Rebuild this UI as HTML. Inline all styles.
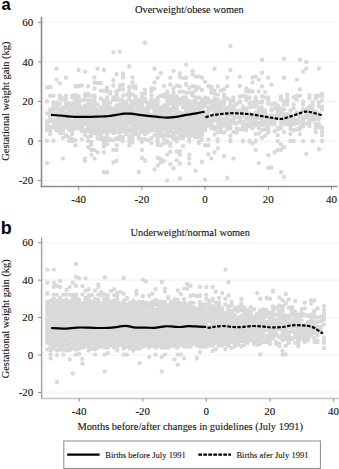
<!DOCTYPE html>
<html><head><meta charset="utf-8"><style>
html,body{margin:0;padding:0;background:#fff;overflow:hidden;}
svg{display:block;}

text{font-family:"Liberation Serif", serif;fill:#111;stroke:#111;stroke-width:0.1px;}
</style></head><body>
<div id="w"><svg width="339" height="469" viewBox="0 0 339 469">
<line x1="41.50" y1="22.37" x2="337.60" y2="22.37" stroke="#f5f5f5" stroke-width="1.6"/>
<line x1="41.50" y1="61.93" x2="337.60" y2="61.93" stroke="#f5f5f5" stroke-width="1.6"/>
<line x1="41.50" y1="101.49" x2="337.60" y2="101.49" stroke="#f5f5f5" stroke-width="1.6"/>
<line x1="41.50" y1="141.05" x2="337.60" y2="141.05" stroke="#f5f5f5" stroke-width="1.6"/>
<line x1="41.50" y1="180.61" x2="337.60" y2="180.61" stroke="#f5f5f5" stroke-width="1.6"/>
<line x1="41.50" y1="242.74" x2="339.00" y2="242.74" stroke="#f5f5f5" stroke-width="1.6"/>
<line x1="41.50" y1="280.16" x2="339.00" y2="280.16" stroke="#f5f5f5" stroke-width="1.6"/>
<line x1="41.50" y1="317.58" x2="339.00" y2="317.58" stroke="#f5f5f5" stroke-width="1.6"/>
<line x1="41.50" y1="355.00" x2="339.00" y2="355.00" stroke="#f5f5f5" stroke-width="1.6"/>
<line x1="41.50" y1="392.42" x2="339.00" y2="392.42" stroke="#f5f5f5" stroke-width="1.6"/>
<path fill="none" stroke="#d9d9d9" stroke-width="4.4" stroke-linecap="round" d="M47.0 124.2h0M47.0 129.2h0M47.0 124.2h0M47.0 101.5h0M47.0 130.2h0M47.0 125.2h0M47.0 113.4h0M47.0 127.2h0M47.0 124.2h0M47.0 124.2h0M47.0 121.3h0M47.0 126.2h0M50.2 110.4h0M50.2 118.3h0M50.2 113.4h0M50.2 127.2h0M50.2 121.3h0M50.2 116.3h0M50.2 109.4h0M50.2 117.3h0M50.2 121.3h0M50.2 117.3h0M50.2 134.1h0M50.2 131.2h0M50.2 118.3h0M53.4 114.3h0M53.4 123.2h0M53.4 123.2h0M53.4 104.5h0M53.4 115.3h0M53.4 127.2h0M53.4 127.2h0M53.4 113.4h0M53.4 122.3h0M53.4 122.3h0M53.4 102.5h0M53.4 110.4h0M53.4 120.3h0M53.4 106.4h0M56.5 122.3h0M56.5 121.3h0M56.5 113.4h0M56.5 127.2h0M56.5 130.2h0M56.5 124.2h0M56.5 108.4h0M56.5 128.2h0M56.5 113.4h0M56.5 130.2h0M56.5 104.5h0M56.5 130.2h0M56.5 120.3h0M56.5 102.5h0M56.5 116.3h0M56.5 121.3h0M56.5 123.2h0M56.5 106.4h0M56.5 104.5h0M56.5 123.2h0M56.5 114.3h0M59.7 123.2h0M59.7 128.2h0M59.7 96.5h0M59.7 123.2h0M59.7 133.1h0M59.7 116.3h0M59.7 108.4h0M59.7 128.2h0M59.7 123.2h0M59.7 130.2h0M59.7 115.3h0M59.7 98.5h0M59.7 119.3h0M59.7 114.3h0M59.7 129.2h0M59.7 123.2h0M59.7 96.5h0M59.7 103.5h0M59.7 130.2h0M59.7 128.2h0M59.7 111.4h0M59.7 121.3h0M59.7 125.2h0M59.7 125.2h0M62.9 119.3h0M62.9 117.3h0M62.9 131.2h0M62.9 119.3h0M62.9 121.3h0M62.9 99.5h0M62.9 124.2h0M62.9 111.4h0M62.9 129.2h0M62.9 119.3h0M62.9 127.2h0M62.9 133.1h0M62.9 125.2h0M62.9 107.4h0M62.9 98.5h0M62.9 138.1h0M62.9 119.3h0M62.9 110.4h0M62.9 122.3h0M62.9 118.3h0M62.9 129.2h0M62.9 121.3h0M62.9 121.3h0M62.9 110.4h0M62.9 125.2h0M66.0 105.4h0M66.0 127.2h0M66.0 136.1h0M66.0 98.5h0M66.0 127.2h0M66.0 106.4h0M66.0 102.5h0M66.0 127.2h0M66.0 108.4h0M66.0 113.4h0M66.0 115.3h0M66.0 126.2h0M66.0 115.3h0M66.0 124.2h0M66.0 118.3h0M66.0 108.4h0M66.0 116.3h0M66.0 106.4h0M66.0 121.3h0M66.0 104.5h0M66.0 104.5h0M66.0 135.1h0M66.0 120.3h0M66.0 120.3h0M66.0 126.2h0M69.2 114.3h0M69.2 117.3h0M69.2 125.2h0M69.2 124.2h0M69.2 103.5h0M69.2 129.2h0M69.2 112.4h0M69.2 105.4h0M69.2 107.4h0M69.2 115.3h0M69.2 137.1h0M69.2 103.5h0M69.2 122.3h0M69.2 121.3h0M69.2 130.2h0M69.2 117.3h0M69.2 111.4h0M69.2 123.2h0M69.2 128.2h0M69.2 127.2h0M69.2 141.1h0M69.2 123.2h0M69.2 112.4h0M69.2 119.3h0M69.2 120.3h0M69.2 122.3h0M69.2 120.3h0M72.3 95.6h0M72.3 129.2h0M72.3 112.4h0M72.3 103.5h0M72.3 127.2h0M72.3 134.1h0M72.3 126.2h0M72.3 122.3h0M72.3 107.4h0M72.3 130.2h0M72.3 103.5h0M72.3 109.4h0M72.3 122.3h0M72.3 97.5h0M72.3 122.3h0M72.3 114.3h0M72.3 133.1h0M72.3 130.2h0M72.3 121.3h0M72.3 132.1h0M72.3 122.3h0M72.3 126.2h0M72.3 105.4h0M72.3 139.1h0M72.3 141.1h0M72.3 105.4h0M75.5 140.1h0M75.5 106.4h0M75.5 116.3h0M75.5 126.2h0M75.5 111.4h0M75.5 117.3h0M75.5 112.4h0M75.5 119.3h0M75.5 103.5h0M75.5 114.3h0M75.5 118.3h0M75.5 116.3h0M75.5 121.3h0M75.5 116.3h0M75.5 128.2h0M75.5 116.3h0M75.5 119.3h0M75.5 111.4h0M75.5 113.4h0M75.5 102.5h0M75.5 126.2h0M75.5 103.5h0M75.5 109.4h0M75.5 124.2h0M75.5 125.2h0M75.5 115.3h0M75.5 125.2h0M75.5 123.2h0M75.5 99.5h0M78.7 110.4h0M78.7 104.5h0M78.7 122.3h0M78.7 118.3h0M78.7 123.2h0M78.7 96.5h0M78.7 112.4h0M78.7 97.5h0M78.7 127.2h0M78.7 115.3h0M78.7 124.2h0M78.7 116.3h0M78.7 120.3h0M78.7 123.2h0M78.7 109.4h0M78.7 128.2h0M78.7 114.3h0M78.7 108.4h0M78.7 122.3h0M78.7 125.2h0M78.7 117.3h0M78.7 108.4h0M78.7 127.2h0M78.7 105.4h0M78.7 121.3h0M78.7 100.5h0M78.7 121.3h0M78.7 120.3h0M81.8 111.4h0M81.8 124.2h0M81.8 110.4h0M81.8 110.4h0M81.8 129.2h0M81.8 120.3h0M81.8 127.2h0M81.8 129.2h0M81.8 114.3h0M81.8 116.3h0M81.8 126.2h0M81.8 107.4h0M81.8 125.2h0M81.8 123.2h0M81.8 110.4h0M81.8 100.5h0M81.8 117.3h0M81.8 107.4h0M81.8 131.2h0M81.8 122.3h0M81.8 129.2h0M81.8 122.3h0M81.8 123.2h0M81.8 109.4h0M81.8 127.2h0M81.8 139.1h0M81.8 116.3h0M85.0 118.3h0M85.0 113.4h0M85.0 110.4h0M85.0 122.3h0M85.0 116.3h0M85.0 135.1h0M85.0 121.3h0M85.0 124.2h0M85.0 130.2h0M85.0 116.3h0M85.0 135.1h0M85.0 111.4h0M85.0 108.4h0M85.0 115.3h0M85.0 119.3h0M85.0 99.5h0M85.0 120.3h0M85.0 95.6h0M85.0 135.1h0M85.0 119.3h0M85.0 111.4h0M85.0 107.4h0M85.0 115.3h0M85.0 117.3h0M85.0 105.4h0M85.0 107.4h0M85.0 118.3h0M85.0 113.4h0M85.0 130.2h0M85.0 132.1h0M88.1 126.2h0M88.1 100.5h0M88.1 127.2h0M88.1 120.3h0M88.1 126.2h0M88.1 137.1h0M88.1 123.2h0M88.1 104.5h0M88.1 127.2h0M88.1 101.5h0M88.1 113.4h0M88.1 123.2h0M88.1 127.2h0M88.1 121.3h0M88.1 109.4h0M88.1 112.4h0M88.1 130.2h0M88.1 121.3h0M88.1 95.6h0M88.1 129.2h0M88.1 125.2h0M88.1 130.2h0M88.1 116.3h0M88.1 129.2h0M88.1 105.4h0M88.1 126.2h0M88.1 113.4h0M88.1 128.2h0M88.1 131.2h0M91.3 110.4h0M91.3 120.3h0M91.3 121.3h0M91.3 133.1h0M91.3 128.2h0M91.3 102.5h0M91.3 125.2h0M91.3 128.2h0M91.3 142.0h0M91.3 95.6h0M91.3 113.4h0M91.3 134.1h0M91.3 100.5h0M91.3 103.5h0M91.3 126.2h0M91.3 131.2h0M91.3 111.4h0M91.3 126.2h0M91.3 122.3h0M91.3 136.1h0M91.3 121.3h0M91.3 131.2h0M91.3 107.4h0M91.3 118.3h0M91.3 119.3h0M91.3 132.1h0M91.3 127.2h0M91.3 109.4h0M91.3 128.2h0M91.3 129.2h0M91.3 119.3h0M94.5 118.3h0M94.5 95.6h0M94.5 123.2h0M94.5 123.2h0M94.5 108.4h0M94.5 128.2h0M94.5 100.5h0M94.5 112.4h0M94.5 114.3h0M94.5 96.5h0M94.5 126.2h0M94.5 130.2h0M94.5 125.2h0M94.5 133.1h0M94.5 106.4h0M94.5 128.2h0M94.5 103.5h0M94.5 116.3h0M94.5 103.5h0M94.5 131.2h0M94.5 129.2h0M94.5 110.4h0M94.5 130.2h0M94.5 122.3h0M94.5 119.3h0M94.5 121.3h0M94.5 118.3h0M94.5 127.2h0M94.5 124.2h0M97.6 131.2h0M97.6 111.4h0M97.6 124.2h0M97.6 125.2h0M97.6 136.1h0M97.6 113.4h0M97.6 138.1h0M97.6 123.2h0M97.6 118.3h0M97.6 111.4h0M97.6 127.2h0M97.6 121.3h0M97.6 104.5h0M97.6 104.5h0M97.6 112.4h0M97.6 110.4h0M97.6 132.1h0M97.6 135.1h0M97.6 130.2h0M97.6 124.2h0M97.6 114.3h0M97.6 121.3h0M97.6 130.2h0M97.6 130.2h0M97.6 116.3h0M97.6 121.3h0M97.6 113.4h0M97.6 109.4h0M97.6 118.3h0M97.6 123.2h0M100.8 121.3h0M100.8 134.1h0M100.8 139.1h0M100.8 122.3h0M100.8 137.1h0M100.8 128.2h0M100.8 114.3h0M100.8 123.2h0M100.8 121.3h0M100.8 117.3h0M100.8 118.3h0M100.8 122.3h0M100.8 125.2h0M100.8 107.4h0M100.8 121.3h0M100.8 98.5h0M100.8 123.2h0M100.8 127.2h0M100.8 122.3h0M100.8 124.2h0M100.8 127.2h0M100.8 111.4h0M100.8 117.3h0M100.8 126.2h0M100.8 131.2h0M100.8 125.2h0M100.8 119.3h0M100.8 131.2h0M100.8 134.1h0M100.8 119.3h0M103.9 108.4h0M103.9 103.5h0M103.9 122.3h0M103.9 132.1h0M103.9 123.2h0M103.9 122.3h0M103.9 115.3h0M103.9 126.2h0M103.9 123.2h0M103.9 121.3h0M103.9 100.5h0M103.9 100.5h0M103.9 104.5h0M103.9 103.5h0M103.9 132.1h0M103.9 107.4h0M103.9 127.2h0M103.9 127.2h0M103.9 123.2h0M103.9 101.5h0M103.9 111.4h0M103.9 138.1h0M103.9 101.5h0M103.9 108.4h0M103.9 118.3h0M103.9 129.2h0M103.9 123.2h0M103.9 128.2h0M103.9 105.4h0M107.1 97.5h0M107.1 136.1h0M107.1 144.0h0M107.1 109.4h0M107.1 121.3h0M107.1 135.1h0M107.1 98.5h0M107.1 91.6h0M107.1 101.5h0M107.1 112.4h0M107.1 112.4h0M107.1 127.2h0M107.1 123.2h0M107.1 102.5h0M107.1 126.2h0M107.1 140.1h0M107.1 133.1h0M107.1 131.2h0M107.1 121.3h0M107.1 131.2h0M107.1 106.4h0M107.1 128.2h0M107.1 119.3h0M107.1 132.1h0M107.1 125.2h0M107.1 104.5h0M107.1 122.3h0M107.1 133.1h0M107.1 104.5h0M107.1 112.4h0M107.1 109.4h0M110.3 129.2h0M110.3 123.2h0M110.3 120.3h0M110.3 123.2h0M110.3 110.4h0M110.3 130.2h0M110.3 131.2h0M110.3 130.2h0M110.3 113.4h0M110.3 122.3h0M110.3 118.3h0M110.3 139.1h0M110.3 123.2h0M110.3 92.6h0M110.3 125.2h0M110.3 140.1h0M110.3 128.2h0M110.3 130.2h0M110.3 121.3h0M110.3 91.6h0M110.3 93.6h0M110.3 102.5h0M110.3 119.3h0M110.3 124.2h0M110.3 128.2h0M110.3 116.3h0M110.3 130.2h0M110.3 116.3h0M110.3 110.4h0M110.3 129.2h0M110.3 107.4h0M113.4 122.3h0M113.4 115.3h0M113.4 116.3h0M113.4 99.5h0M113.4 98.5h0M113.4 114.3h0M113.4 112.4h0M113.4 133.1h0M113.4 125.2h0M113.4 97.5h0M113.4 108.4h0M113.4 128.2h0M113.4 140.1h0M113.4 125.2h0M113.4 124.2h0M113.4 120.3h0M113.4 116.3h0M113.4 99.5h0M113.4 113.4h0M113.4 99.5h0M113.4 121.3h0M113.4 99.5h0M113.4 122.3h0M113.4 130.2h0M113.4 117.3h0M113.4 128.2h0M113.4 128.2h0M113.4 125.2h0M116.6 110.4h0M116.6 108.4h0M116.6 126.2h0M116.6 116.3h0M116.6 139.1h0M116.6 117.3h0M116.6 116.3h0M116.6 138.1h0M116.6 92.6h0M116.6 114.3h0M116.6 130.2h0M116.6 107.4h0M116.6 113.4h0M116.6 115.3h0M116.6 127.2h0M116.6 122.3h0M116.6 125.2h0M116.6 127.2h0M116.6 121.3h0M116.6 132.1h0M116.6 110.4h0M116.6 99.5h0M116.6 94.6h0M116.6 96.5h0M116.6 112.4h0M116.6 131.2h0M116.6 122.3h0M116.6 112.4h0M116.6 105.4h0M116.6 113.4h0M119.8 115.3h0M119.8 112.4h0M119.8 99.5h0M119.8 114.3h0M119.8 131.2h0M119.8 117.3h0M119.8 123.2h0M119.8 109.4h0M119.8 89.6h0M119.8 122.3h0M119.8 139.1h0M119.8 122.3h0M119.8 132.1h0M119.8 120.3h0M119.8 88.6h0M119.8 126.2h0M119.8 114.3h0M119.8 99.5h0M119.8 129.2h0M119.8 124.2h0M119.8 113.4h0M119.8 130.2h0M119.8 108.4h0M119.8 127.2h0M119.8 106.4h0M119.8 126.2h0M119.8 104.5h0M119.8 136.1h0M119.8 123.2h0M122.9 105.4h0M122.9 131.2h0M122.9 125.2h0M122.9 131.2h0M122.9 116.3h0M122.9 126.2h0M122.9 110.4h0M122.9 100.5h0M122.9 95.6h0M122.9 112.4h0M122.9 112.4h0M122.9 111.4h0M122.9 113.4h0M122.9 124.2h0M122.9 112.4h0M122.9 107.4h0M122.9 141.1h0M122.9 104.5h0M122.9 138.1h0M122.9 137.1h0M122.9 123.2h0M122.9 112.4h0M122.9 122.3h0M122.9 103.5h0M122.9 123.2h0M122.9 121.3h0M122.9 126.2h0M122.9 130.2h0M126.1 109.4h0M126.1 107.4h0M126.1 111.4h0M126.1 106.4h0M126.1 131.2h0M126.1 130.2h0M126.1 134.1h0M126.1 120.3h0M126.1 124.2h0M126.1 112.4h0M126.1 103.5h0M126.1 125.2h0M126.1 123.2h0M126.1 104.5h0M126.1 127.2h0M126.1 94.6h0M126.1 118.3h0M126.1 111.4h0M126.1 113.4h0M126.1 104.5h0M126.1 130.2h0M126.1 126.2h0M126.1 133.1h0M126.1 122.3h0M126.1 101.5h0M126.1 115.3h0M126.1 103.5h0M126.1 125.2h0M126.1 133.1h0M126.1 124.2h0M126.1 111.4h0M126.1 115.3h0M129.2 123.2h0M129.2 99.5h0M129.2 122.3h0M129.2 123.2h0M129.2 112.4h0M129.2 114.3h0M129.2 122.3h0M129.2 108.4h0M129.2 108.4h0M129.2 128.2h0M129.2 123.2h0M129.2 137.1h0M129.2 105.4h0M129.2 93.6h0M129.2 130.2h0M129.2 130.2h0M129.2 109.4h0M129.2 98.5h0M129.2 120.3h0M129.2 94.6h0M129.2 115.3h0M129.2 87.6h0M129.2 117.3h0M129.2 117.3h0M129.2 136.1h0M129.2 116.3h0M129.2 128.2h0M129.2 110.4h0M129.2 107.4h0M129.2 97.5h0M129.2 131.2h0M132.4 102.5h0M132.4 117.3h0M132.4 121.3h0M132.4 135.1h0M132.4 139.1h0M132.4 110.4h0M132.4 103.5h0M132.4 94.6h0M132.4 134.1h0M132.4 119.3h0M132.4 110.4h0M132.4 119.3h0M132.4 94.6h0M132.4 130.2h0M132.4 124.2h0M132.4 122.3h0M132.4 105.4h0M132.4 126.2h0M132.4 138.1h0M132.4 101.5h0M132.4 120.3h0M132.4 113.4h0M132.4 124.2h0M132.4 120.3h0M132.4 118.3h0M132.4 107.4h0M132.4 120.3h0M132.4 111.4h0M132.4 118.3h0M132.4 119.3h0M132.4 127.2h0M135.6 111.4h0M135.6 115.3h0M135.6 131.2h0M135.6 117.3h0M135.6 116.3h0M135.6 129.2h0M135.6 123.2h0M135.6 121.3h0M135.6 122.3h0M135.6 101.5h0M135.6 125.2h0M135.6 134.1h0M135.6 126.2h0M135.6 96.5h0M135.6 123.2h0M135.6 106.4h0M135.6 117.3h0M135.6 122.3h0M135.6 102.5h0M135.6 134.1h0M135.6 119.3h0M135.6 128.2h0M135.6 127.2h0M135.6 134.1h0M135.6 132.1h0M135.6 98.5h0M135.6 121.3h0M135.6 88.6h0M135.6 113.4h0M135.6 128.2h0M135.6 130.2h0M135.6 133.1h0M138.7 124.2h0M138.7 121.3h0M138.7 133.1h0M138.7 136.1h0M138.7 115.3h0M138.7 120.3h0M138.7 115.3h0M138.7 126.2h0M138.7 128.2h0M138.7 126.2h0M138.7 110.4h0M138.7 135.1h0M138.7 121.3h0M138.7 136.1h0M138.7 135.1h0M138.7 101.5h0M138.7 105.4h0M138.7 105.4h0M138.7 123.2h0M138.7 121.3h0M138.7 123.2h0M138.7 108.4h0M138.7 125.2h0M138.7 135.1h0M138.7 100.5h0M138.7 117.3h0M138.7 123.2h0M138.7 118.3h0M138.7 117.3h0M138.7 138.1h0M138.7 134.1h0M141.9 129.2h0M141.9 109.4h0M141.9 124.2h0M141.9 112.4h0M141.9 115.3h0M141.9 113.4h0M141.9 142.0h0M141.9 123.2h0M141.9 121.3h0M141.9 128.2h0M141.9 104.5h0M141.9 103.5h0M141.9 127.2h0M141.9 107.4h0M141.9 129.2h0M141.9 132.1h0M141.9 93.6h0M141.9 118.3h0M141.9 97.5h0M141.9 120.3h0M141.9 130.2h0M141.9 100.5h0M141.9 139.1h0M141.9 116.3h0M141.9 103.5h0M141.9 119.3h0M141.9 129.2h0M141.9 100.5h0M141.9 121.3h0M141.9 100.5h0M145.0 131.2h0M145.0 101.5h0M145.0 114.3h0M145.0 139.1h0M145.0 119.3h0M145.0 134.1h0M145.0 123.2h0M145.0 110.4h0M145.0 117.3h0M145.0 121.3h0M145.0 114.3h0M145.0 108.4h0M145.0 109.4h0M145.0 98.5h0M145.0 122.3h0M145.0 124.2h0M145.0 128.2h0M145.0 93.6h0M145.0 129.2h0M145.0 120.3h0M145.0 99.5h0M145.0 121.3h0M145.0 129.2h0M145.0 126.2h0M145.0 128.2h0M145.0 130.2h0M145.0 130.2h0M145.0 120.3h0M145.0 89.6h0M145.0 109.4h0M145.0 124.2h0M145.0 113.4h0M148.2 129.2h0M148.2 121.3h0M148.2 140.1h0M148.2 106.4h0M148.2 130.2h0M148.2 113.4h0M148.2 109.4h0M148.2 126.2h0M148.2 111.4h0M148.2 129.2h0M148.2 103.5h0M148.2 121.3h0M148.2 108.4h0M148.2 117.3h0M148.2 115.3h0M148.2 103.5h0M148.2 127.2h0M148.2 102.5h0M148.2 106.4h0M148.2 130.2h0M148.2 130.2h0M148.2 127.2h0M148.2 124.2h0M148.2 102.5h0M148.2 109.4h0M148.2 105.4h0M148.2 130.2h0M148.2 123.2h0M148.2 132.1h0M148.2 130.2h0M148.2 117.3h0M151.4 143.0h0M151.4 130.2h0M151.4 127.2h0M151.4 115.3h0M151.4 117.3h0M151.4 115.3h0M151.4 116.3h0M151.4 120.3h0M151.4 115.3h0M151.4 124.2h0M151.4 123.2h0M151.4 129.2h0M151.4 120.3h0M151.4 129.2h0M151.4 104.5h0M151.4 138.1h0M151.4 102.5h0M151.4 116.3h0M151.4 128.2h0M151.4 107.4h0M151.4 128.2h0M151.4 99.5h0M151.4 91.6h0M151.4 100.5h0M151.4 95.6h0M151.4 120.3h0M151.4 116.3h0M151.4 124.2h0M151.4 105.4h0M154.5 120.3h0M154.5 125.2h0M154.5 117.3h0M154.5 111.4h0M154.5 121.3h0M154.5 130.2h0M154.5 127.2h0M154.5 130.2h0M154.5 112.4h0M154.5 109.4h0M154.5 117.3h0M154.5 125.2h0M154.5 128.2h0M154.5 135.1h0M154.5 100.5h0M154.5 113.4h0M154.5 114.3h0M154.5 116.3h0M154.5 119.3h0M154.5 124.2h0M154.5 126.2h0M154.5 127.2h0M154.5 102.5h0M154.5 130.2h0M154.5 107.4h0M154.5 102.5h0M154.5 106.4h0M154.5 108.4h0M154.5 122.3h0M154.5 129.2h0M157.7 112.4h0M157.7 130.2h0M157.7 123.2h0M157.7 126.2h0M157.7 98.5h0M157.7 130.2h0M157.7 97.5h0M157.7 123.2h0M157.7 134.1h0M157.7 126.2h0M157.7 130.2h0M157.7 112.4h0M157.7 113.4h0M157.7 133.1h0M157.7 121.3h0M157.7 119.3h0M157.7 99.5h0M157.7 122.3h0M157.7 127.2h0M157.7 109.4h0M157.7 113.4h0M157.7 137.1h0M157.7 123.2h0M157.7 116.3h0M157.7 103.5h0M157.7 111.4h0M157.7 117.3h0M157.7 135.1h0M157.7 111.4h0M157.7 139.1h0M157.7 107.4h0M157.7 115.3h0M160.8 117.3h0M160.8 108.4h0M160.8 119.3h0M160.8 125.2h0M160.8 95.6h0M160.8 117.3h0M160.8 119.3h0M160.8 115.3h0M160.8 128.2h0M160.8 112.4h0M160.8 115.3h0M160.8 121.3h0M160.8 128.2h0M160.8 117.3h0M160.8 136.1h0M160.8 107.4h0M160.8 134.1h0M160.8 108.4h0M160.8 118.3h0M160.8 124.2h0M160.8 130.2h0M160.8 115.3h0M160.8 134.1h0M160.8 117.3h0M160.8 109.4h0M160.8 125.2h0M160.8 122.3h0M160.8 130.2h0M160.8 112.4h0M160.8 125.2h0M160.8 127.2h0M160.8 124.2h0M164.0 110.4h0M164.0 130.2h0M164.0 122.3h0M164.0 126.2h0M164.0 115.3h0M164.0 121.3h0M164.0 105.4h0M164.0 122.3h0M164.0 128.2h0M164.0 122.3h0M164.0 129.2h0M164.0 124.2h0M164.0 135.1h0M164.0 118.3h0M164.0 96.5h0M164.0 125.2h0M164.0 118.3h0M164.0 106.4h0M164.0 127.2h0M164.0 123.2h0M164.0 125.2h0M164.0 116.3h0M164.0 123.2h0M164.0 123.2h0M164.0 139.1h0M164.0 110.4h0M164.0 121.3h0M164.0 124.2h0M164.0 95.6h0M164.0 96.5h0M164.0 143.0h0M164.0 94.6h0M164.0 127.2h0M167.2 109.4h0M167.2 91.6h0M167.2 107.4h0M167.2 129.2h0M167.2 100.5h0M167.2 127.2h0M167.2 124.2h0M167.2 141.1h0M167.2 114.3h0M167.2 134.1h0M167.2 130.2h0M167.2 116.3h0M167.2 96.5h0M167.2 136.1h0M167.2 100.5h0M167.2 114.3h0M167.2 130.2h0M167.2 132.1h0M167.2 108.4h0M167.2 120.3h0M167.2 117.3h0M167.2 133.1h0M167.2 93.6h0M167.2 130.2h0M167.2 121.3h0M167.2 104.5h0M167.2 122.3h0M167.2 110.4h0M167.2 113.4h0M167.2 112.4h0M170.3 127.2h0M170.3 136.1h0M170.3 128.2h0M170.3 102.5h0M170.3 96.5h0M170.3 109.4h0M170.3 131.2h0M170.3 116.3h0M170.3 111.4h0M170.3 122.3h0M170.3 99.5h0M170.3 103.5h0M170.3 126.2h0M170.3 116.3h0M170.3 114.3h0M170.3 124.2h0M170.3 112.4h0M170.3 110.4h0M170.3 114.3h0M170.3 127.2h0M170.3 121.3h0M170.3 103.5h0M170.3 116.3h0M170.3 127.2h0M170.3 103.5h0M170.3 124.2h0M170.3 117.3h0M170.3 129.2h0M170.3 125.2h0M170.3 136.1h0M170.3 126.2h0M170.3 112.4h0M173.5 125.2h0M173.5 125.2h0M173.5 138.1h0M173.5 103.5h0M173.5 124.2h0M173.5 101.5h0M173.5 96.5h0M173.5 128.2h0M173.5 126.2h0M173.5 105.4h0M173.5 137.1h0M173.5 106.4h0M173.5 103.5h0M173.5 127.2h0M173.5 123.2h0M173.5 118.3h0M173.5 120.3h0M173.5 123.2h0M173.5 119.3h0M173.5 118.3h0M173.5 92.6h0M173.5 100.5h0M173.5 127.2h0M173.5 110.4h0M173.5 126.2h0M173.5 133.1h0M173.5 115.3h0M173.5 124.2h0M173.5 128.2h0M173.5 139.1h0M173.5 136.1h0M176.7 119.3h0M176.7 108.4h0M176.7 104.5h0M176.7 126.2h0M176.7 125.2h0M176.7 118.3h0M176.7 129.2h0M176.7 112.4h0M176.7 132.1h0M176.7 121.3h0M176.7 120.3h0M176.7 121.3h0M176.7 119.3h0M176.7 96.5h0M176.7 123.2h0M176.7 133.1h0M176.7 128.2h0M176.7 116.3h0M176.7 138.1h0M176.7 105.4h0M176.7 101.5h0M176.7 126.2h0M176.7 99.5h0M176.7 85.7h0M176.7 130.2h0M176.7 128.2h0M176.7 128.2h0M176.7 113.4h0M176.7 123.2h0M176.7 106.4h0M176.7 138.1h0M176.7 129.2h0M179.8 91.6h0M179.8 129.2h0M179.8 136.1h0M179.8 133.1h0M179.8 129.2h0M179.8 121.3h0M179.8 116.3h0M179.8 127.2h0M179.8 125.2h0M179.8 123.2h0M179.8 116.3h0M179.8 138.1h0M179.8 103.5h0M179.8 120.3h0M179.8 112.4h0M179.8 131.2h0M179.8 135.1h0M179.8 133.1h0M179.8 128.2h0M179.8 99.5h0M179.8 126.2h0M179.8 119.3h0M179.8 121.3h0M179.8 116.3h0M179.8 125.2h0M179.8 124.2h0M179.8 115.3h0M179.8 120.3h0M179.8 126.2h0M179.8 126.2h0M179.8 118.3h0M183.0 131.2h0M183.0 114.3h0M183.0 136.1h0M183.0 91.6h0M183.0 102.5h0M183.0 107.4h0M183.0 106.4h0M183.0 133.1h0M183.0 133.1h0M183.0 122.3h0M183.0 138.1h0M183.0 123.2h0M183.0 113.4h0M183.0 123.2h0M183.0 119.3h0M183.0 128.2h0M183.0 98.5h0M183.0 131.2h0M183.0 114.3h0M183.0 129.2h0M183.0 97.5h0M183.0 114.3h0M183.0 122.3h0M183.0 130.2h0M183.0 102.5h0M183.0 138.1h0M183.0 126.2h0M183.0 113.4h0M183.0 133.1h0M183.0 122.3h0M183.0 132.1h0M186.1 114.3h0M186.1 127.2h0M186.1 124.2h0M186.1 108.4h0M186.1 111.4h0M186.1 127.2h0M186.1 128.2h0M186.1 118.3h0M186.1 129.2h0M186.1 130.2h0M186.1 121.3h0M186.1 105.4h0M186.1 100.5h0M186.1 92.6h0M186.1 133.1h0M186.1 118.3h0M186.1 113.4h0M186.1 117.3h0M186.1 100.5h0M186.1 124.2h0M186.1 134.1h0M186.1 132.1h0M186.1 97.5h0M186.1 135.1h0M186.1 109.4h0M186.1 92.6h0M186.1 102.5h0M186.1 106.4h0M186.1 121.3h0M186.1 105.4h0M186.1 98.5h0M186.1 117.3h0M189.3 110.4h0M189.3 125.2h0M189.3 122.3h0M189.3 92.6h0M189.3 132.1h0M189.3 101.5h0M189.3 112.4h0M189.3 119.3h0M189.3 109.4h0M189.3 92.6h0M189.3 134.1h0M189.3 108.4h0M189.3 117.3h0M189.3 120.3h0M189.3 122.3h0M189.3 118.3h0M189.3 123.2h0M189.3 125.2h0M189.3 129.2h0M189.3 114.3h0M189.3 109.4h0M189.3 105.4h0M189.3 127.2h0M189.3 120.3h0M189.3 126.2h0M189.3 126.2h0M189.3 138.1h0M189.3 123.2h0M189.3 128.2h0M189.3 102.5h0M189.3 104.5h0M189.3 116.3h0M192.5 102.5h0M192.5 128.2h0M192.5 101.5h0M192.5 121.3h0M192.5 104.5h0M192.5 116.3h0M192.5 117.3h0M192.5 94.6h0M192.5 122.3h0M192.5 131.2h0M192.5 127.2h0M192.5 111.4h0M192.5 112.4h0M192.5 103.5h0M192.5 127.2h0M192.5 135.1h0M192.5 113.4h0M192.5 95.6h0M192.5 123.2h0M192.5 128.2h0M192.5 122.3h0M192.5 129.2h0M192.5 126.2h0M192.5 125.2h0M192.5 131.2h0M192.5 106.4h0M192.5 108.4h0M192.5 125.2h0M192.5 110.4h0M192.5 123.2h0M192.5 92.6h0M195.6 129.2h0M195.6 121.3h0M195.6 122.3h0M195.6 137.1h0M195.6 104.5h0M195.6 107.4h0M195.6 104.5h0M195.6 114.3h0M195.6 105.4h0M195.6 121.3h0M195.6 111.4h0M195.6 99.5h0M195.6 97.5h0M195.6 133.1h0M195.6 120.3h0M195.6 117.3h0M195.6 121.3h0M195.6 119.3h0M195.6 128.2h0M195.6 126.2h0M195.6 112.4h0M195.6 108.4h0M195.6 104.5h0M195.6 102.5h0M195.6 135.1h0M195.6 107.4h0M195.6 90.6h0M195.6 108.4h0M195.6 109.4h0M195.6 124.2h0M195.6 107.4h0M195.6 126.2h0M195.6 125.2h0M195.6 134.1h0M198.8 143.0h0M198.8 134.1h0M198.8 103.5h0M198.8 115.3h0M198.8 123.2h0M198.8 128.2h0M198.8 133.1h0M198.8 118.3h0M198.8 127.2h0M198.8 128.2h0M198.8 114.3h0M198.8 129.2h0M198.8 132.1h0M198.8 118.3h0M198.8 131.2h0M198.8 137.1h0M198.8 121.3h0M198.8 121.3h0M198.8 116.3h0M198.8 111.4h0M198.8 122.3h0M198.8 114.3h0M198.8 116.3h0M198.8 109.4h0M198.8 97.5h0M198.8 107.4h0M198.8 124.2h0M198.8 103.5h0M198.8 111.4h0M198.8 137.1h0M198.8 132.1h0M198.8 110.4h0M201.9 135.1h0M201.9 111.4h0M201.9 120.3h0M201.9 133.1h0M201.9 107.4h0M201.9 132.1h0M201.9 107.4h0M201.9 122.3h0M201.9 115.3h0M201.9 118.3h0M201.9 121.3h0M201.9 118.3h0M201.9 104.5h0M201.9 128.2h0M201.9 126.2h0M201.9 132.1h0M201.9 133.1h0M201.9 99.5h0M201.9 132.1h0M201.9 132.1h0M201.9 112.4h0M201.9 130.2h0M201.9 134.1h0M201.9 111.4h0M201.9 99.5h0M201.9 114.3h0M201.9 122.3h0M201.9 101.5h0M205.1 114.3h0M205.1 103.5h0M205.1 112.4h0M205.1 118.3h0M205.1 121.3h0M205.1 130.2h0M205.1 114.3h0M205.1 112.4h0M205.1 127.2h0M205.1 99.5h0M205.1 99.5h0M205.1 97.5h0M205.1 115.3h0M205.1 121.3h0M205.1 116.3h0M205.1 122.3h0M205.1 125.2h0M205.1 122.3h0M205.1 106.4h0M205.1 113.4h0M205.1 129.2h0M208.3 102.5h0M208.3 113.4h0M208.3 111.4h0M208.3 114.3h0M208.3 101.5h0M208.3 98.5h0M208.3 125.2h0M208.3 107.4h0M208.3 116.3h0M208.3 123.2h0M208.3 112.4h0M208.3 122.3h0M208.3 108.4h0M208.3 112.4h0M208.3 115.3h0M208.3 110.4h0M208.3 117.3h0M208.3 119.3h0M211.4 121.3h0M211.4 103.5h0M211.4 120.3h0M211.4 119.3h0M211.4 92.6h0M211.4 86.7h0M211.4 121.3h0M211.4 103.5h0M211.4 126.2h0M211.4 108.4h0M211.4 107.4h0M211.4 117.3h0M211.4 123.2h0M211.4 101.5h0M211.4 128.2h0M211.4 126.2h0M211.4 123.2h0M211.4 109.4h0M211.4 125.2h0M214.6 100.5h0M214.6 112.4h0M214.6 120.3h0M214.6 109.4h0M214.6 120.3h0M214.6 127.2h0M214.6 105.4h0M214.6 93.6h0M214.6 110.4h0M214.6 98.5h0M214.6 106.4h0M214.6 115.3h0M214.6 116.3h0M214.6 128.2h0M214.6 102.5h0M214.6 120.3h0M214.6 109.4h0M214.6 129.2h0M217.7 119.3h0M217.7 132.1h0M217.7 109.4h0M217.7 94.6h0M217.7 99.5h0M217.7 94.6h0M217.7 103.5h0M217.7 113.4h0M217.7 127.2h0M217.7 123.2h0M217.7 121.3h0M217.7 111.4h0M217.7 106.4h0M217.7 117.3h0M217.7 118.3h0M217.7 119.3h0M217.7 120.3h0M217.7 115.3h0M220.9 101.5h0M220.9 105.4h0M220.9 132.1h0M220.9 111.4h0M220.9 123.2h0M220.9 130.2h0M220.9 120.3h0M220.9 111.4h0M220.9 113.4h0M220.9 102.5h0M220.9 119.3h0M220.9 127.2h0M220.9 122.3h0M220.9 124.2h0M220.9 123.2h0M220.9 108.4h0M220.9 118.3h0M220.9 123.2h0M224.1 109.4h0M224.1 114.3h0M224.1 102.5h0M224.1 124.2h0M224.1 119.3h0M224.1 111.4h0M224.1 94.6h0M224.1 98.5h0M224.1 103.5h0M224.1 121.3h0M224.1 99.5h0M224.1 96.5h0M224.1 108.4h0M224.1 110.4h0M224.1 125.2h0M227.2 115.3h0M227.2 98.5h0M227.2 110.4h0M227.2 119.3h0M227.2 124.2h0M227.2 116.3h0M227.2 119.3h0M227.2 128.2h0M227.2 129.2h0M227.2 124.2h0M227.2 107.4h0M227.2 111.4h0M227.2 128.2h0M227.2 108.4h0M227.2 116.3h0M230.4 123.2h0M230.4 114.3h0M230.4 127.2h0M230.4 128.2h0M230.4 107.4h0M230.4 110.4h0M230.4 115.3h0M230.4 100.5h0M230.4 120.3h0M230.4 114.3h0M230.4 124.2h0M230.4 108.4h0M230.4 104.5h0M230.4 104.5h0M230.4 108.4h0M230.4 106.4h0M230.4 112.4h0M233.5 116.3h0M233.5 107.4h0M233.5 111.4h0M233.5 120.3h0M233.5 123.2h0M233.5 121.3h0M233.5 106.4h0M233.5 120.3h0M233.5 115.3h0M233.5 115.3h0M233.5 123.2h0M233.5 115.3h0M233.5 132.1h0M233.5 123.2h0M233.5 101.5h0M233.5 97.5h0M236.7 123.2h0M236.7 112.4h0M236.7 117.3h0M236.7 130.2h0M236.7 129.2h0M236.7 110.4h0M236.7 112.4h0M236.7 130.2h0M236.7 117.3h0M236.7 104.5h0M236.7 128.2h0M236.7 116.3h0M236.7 130.2h0M236.7 115.3h0M236.7 129.2h0M239.9 114.3h0M239.9 129.2h0M239.9 122.3h0M239.9 115.3h0M239.9 119.3h0M239.9 110.4h0M239.9 101.5h0M239.9 102.5h0M239.9 117.3h0M239.9 102.5h0M239.9 121.3h0M239.9 122.3h0M239.9 121.3h0M239.9 110.4h0M239.9 118.3h0M239.9 117.3h0M239.9 129.2h0M243.0 106.4h0M243.0 112.4h0M243.0 114.3h0M243.0 116.3h0M243.0 107.4h0M243.0 109.4h0M243.0 127.2h0M243.0 109.4h0M243.0 126.2h0M243.0 129.2h0M243.0 124.2h0M243.0 122.3h0M243.0 122.3h0M243.0 95.6h0M243.0 124.2h0M246.2 129.2h0M246.2 127.2h0M246.2 112.4h0M246.2 96.5h0M246.2 127.2h0M246.2 125.2h0M246.2 112.4h0M246.2 130.2h0M246.2 124.2h0M246.2 99.5h0M246.2 113.4h0M246.2 111.4h0M246.2 116.3h0M246.2 119.3h0M246.2 108.4h0M249.4 115.3h0M249.4 123.2h0M249.4 117.3h0M249.4 114.3h0M249.4 113.4h0M249.4 116.3h0M249.4 90.6h0M249.4 119.3h0M249.4 103.5h0M249.4 118.3h0M249.4 97.5h0M249.4 126.2h0M249.4 119.3h0M249.4 98.5h0M249.4 119.3h0M249.4 107.4h0M252.5 122.3h0M252.5 106.4h0M252.5 119.3h0M252.5 117.3h0M252.5 128.2h0M252.5 121.3h0M252.5 122.3h0M252.5 102.5h0M252.5 124.2h0M252.5 123.2h0M252.5 117.3h0M252.5 119.3h0M252.5 104.5h0M252.5 119.3h0M255.7 102.5h0M255.7 118.3h0M255.7 112.4h0M255.7 106.4h0M255.7 123.2h0M255.7 97.5h0M255.7 117.3h0M255.7 99.5h0M255.7 134.1h0M255.7 125.2h0M255.7 123.2h0M255.7 122.3h0M255.7 112.4h0M258.8 118.3h0M258.8 110.4h0M258.8 111.4h0M258.8 124.2h0M258.8 116.3h0M258.8 115.3h0M258.8 107.4h0M258.8 113.4h0M258.8 102.5h0M258.8 128.2h0M258.8 102.5h0M258.8 123.2h0M262.0 102.5h0M262.0 118.3h0M262.0 130.2h0M262.0 125.2h0M262.0 101.5h0M262.0 107.4h0M262.0 120.3h0M262.0 120.3h0M262.0 117.3h0M262.0 112.4h0M262.0 112.4h0M262.0 109.4h0M262.0 121.3h0M265.2 110.4h0M265.2 97.5h0M265.2 122.3h0M265.2 97.5h0M265.2 121.3h0M265.2 112.4h0M265.2 122.3h0M265.2 124.2h0M265.2 129.2h0M265.2 110.4h0M265.2 113.4h0M265.2 117.3h0M268.3 122.3h0M268.3 118.3h0M268.3 98.5h0M268.3 128.2h0M268.3 129.2h0M268.3 99.5h0M268.3 122.3h0M268.3 128.2h0M268.3 125.2h0M268.3 103.5h0M268.3 97.5h0M268.3 116.3h0M271.5 110.4h0M271.5 117.3h0M271.5 116.3h0M271.5 122.3h0M271.5 109.4h0M271.5 115.3h0M271.5 115.3h0M271.5 124.2h0M271.5 120.3h0M271.5 119.3h0M271.5 104.5h0M274.6 122.3h0M274.6 116.3h0M274.6 124.2h0M274.6 119.3h0M274.6 124.2h0M274.6 103.5h0M274.6 118.3h0M274.6 131.2h0M274.6 116.3h0M274.6 108.4h0M277.8 114.3h0M277.8 114.3h0M277.8 112.4h0M277.8 135.1h0M277.8 105.4h0M277.8 111.4h0M277.8 109.4h0M277.8 128.2h0M277.8 113.4h0M277.8 129.2h0M277.8 118.3h0M281.0 96.5h0M281.0 128.2h0M281.0 122.3h0M281.0 121.3h0M281.0 115.3h0M281.0 111.4h0M281.0 99.5h0M281.0 125.2h0M281.0 119.3h0M281.0 112.4h0M281.0 108.4h0M284.1 116.3h0M284.1 132.1h0M284.1 124.2h0M284.1 109.4h0M284.1 101.5h0M284.1 114.3h0M284.1 104.5h0M284.1 118.3h0M284.1 121.3h0M284.1 123.2h0M287.3 121.3h0M287.3 114.3h0M287.3 122.3h0M287.3 104.5h0M287.3 116.3h0M287.3 124.2h0M287.3 120.3h0M287.3 99.5h0M287.3 101.5h0M287.3 94.6h0M290.4 115.3h0M290.4 134.1h0M290.4 127.2h0M290.4 129.2h0M290.4 110.4h0M290.4 124.2h0M290.4 117.3h0M290.4 121.3h0M293.6 120.3h0M293.6 130.2h0M293.6 104.5h0M293.6 117.3h0M293.6 119.3h0M293.6 130.2h0M293.6 124.2h0M293.6 108.4h0M293.6 122.3h0M296.8 120.3h0M296.8 112.4h0M296.8 123.2h0M296.8 112.4h0M296.8 129.2h0M296.8 99.5h0M296.8 112.4h0M296.8 113.4h0M296.8 112.4h0M299.9 113.4h0M299.9 122.3h0M299.9 117.3h0M299.9 117.3h0M299.9 127.2h0M299.9 127.2h0M299.9 129.2h0M299.9 134.1h0M303.1 119.3h0M303.1 117.3h0M303.1 118.3h0M303.1 109.4h0M303.1 104.5h0M303.1 124.2h0M303.1 126.2h0M303.1 101.5h0M303.1 122.3h0M306.3 115.3h0M306.3 112.4h0M306.3 123.2h0M306.3 116.3h0M306.3 109.4h0M306.3 117.3h0M306.3 109.4h0M306.3 111.4h0M309.4 118.3h0M309.4 119.3h0M309.4 108.4h0M309.4 115.3h0M309.4 123.2h0M309.4 126.2h0M309.4 106.4h0M309.4 120.3h0M312.6 116.3h0M312.6 106.4h0M312.6 106.4h0M312.6 112.4h0M312.6 102.5h0M312.6 109.4h0M312.6 120.3h0M312.6 118.3h0M315.7 111.4h0M315.7 98.5h0M315.7 132.1h0M315.7 116.3h0M315.7 118.3h0M315.7 119.3h0M315.7 128.2h0M315.7 124.2h0M318.9 127.2h0M318.9 124.2h0M318.9 118.3h0M318.9 119.3h0M318.9 106.4h0M318.9 113.4h0M318.9 102.5h0M322.1 131.2h0M322.1 127.2h0M322.1 109.4h0M322.1 135.1h0M322.1 93.6h0M322.1 100.5h0M322.1 106.4h0M113.4 52.3h0M119.8 51.6h0M56.5 68.8h0M78.7 70.0h0M85.0 71.6h0M97.6 68.8h0M103.9 70.0h0M116.6 74.0h0M145.0 42.8h0M129.2 66.2h0M122.9 73.5h0M154.5 68.8h0M160.8 73.3h0M173.5 70.9h0M179.8 73.3h0M186.1 64.6h0M192.5 70.9h0M230.4 46.2h0M262.0 59.8h0M214.6 68.8h0M230.4 70.0h0M262.0 72.8h0M284.1 58.9h0M299.9 59.8h0M306.3 61.9h0M306.3 68.6h0M318.9 68.6h0M303.1 71.6h0M66.0 77.7h0M56.5 79.6h0M59.7 83.3h0M47.0 87.7h0M50.2 87.0h0M75.5 86.2h0M78.7 86.2h0M81.8 85.5h0M88.1 86.2h0M50.2 95.8h0M53.4 95.8h0M59.7 95.8h0M66.0 95.8h0M72.3 95.8h0M75.5 95.0h0M85.0 94.3h0M88.1 93.6h0M116.6 74.1h0M122.9 74.1h0M122.9 77.4h0M94.5 77.4h0M113.4 80.3h0M132.4 77.4h0M94.5 82.5h0M97.6 83.0h0M100.8 83.0h0M132.4 82.5h0M113.4 85.5h0M119.8 85.5h0M122.9 84.7h0M88.1 86.2h0M94.5 88.4h0M107.1 87.7h0M100.8 90.6h0M103.9 90.6h0M122.9 89.2h0M129.2 87.0h0M132.4 87.0h0M110.3 92.1h0M116.6 91.4h0M129.2 91.4h0M135.6 88.4h0M157.7 77.7h0M170.3 77.7h0M179.8 77.1h0M183.0 78.1h0M186.1 78.1h0M154.5 82.5h0M135.6 86.2h0M164.0 85.9h0M170.3 84.7h0M173.5 88.4h0M179.8 86.2h0M186.1 84.7h0M151.4 88.4h0M154.5 88.4h0M192.5 74.4h0M186.1 77.4h0M195.6 76.6h0M198.8 76.6h0M201.9 77.4h0M205.1 81.8h0M227.2 77.4h0M186.1 84.0h0M189.3 87.7h0M192.5 86.2h0M195.6 87.0h0M198.8 87.7h0M208.3 86.2h0M217.7 86.5h0M227.2 86.2h0M211.4 89.2h0M214.6 90.6h0M201.9 89.9h0M220.9 90.6h0M224.1 89.2h0M239.9 76.6h0M252.5 77.4h0M255.7 76.6h0M258.8 79.6h0M268.3 77.7h0M252.5 82.5h0M239.9 85.9h0M262.0 86.5h0M271.5 84.7h0M246.2 88.4h0M246.2 91.4h0M249.4 91.4h0M252.5 91.4h0M258.8 91.4h0M265.2 92.1h0M262.0 96.3h0M255.7 97.3h0M233.5 97.7h0M239.9 96.5h0M281.0 98.0h0M284.1 77.7h0M296.8 79.6h0M299.9 89.2h0M296.8 95.8h0M299.9 95.8h0M309.4 95.1h0M309.4 98.0h0M315.7 95.8h0M318.9 95.8h0M322.1 95.8h0M281.0 97.3h0M287.3 97.7h0M293.6 97.3h0M47.0 140.7h0M53.4 140.7h0M75.5 145.2h0M88.1 141.2h0M91.3 144.7h0M88.1 147.1h0M91.3 149.9h0M94.5 149.9h0M97.6 152.5h0M91.3 154.6h0M103.9 141.2h0M103.9 144.0h0M103.9 146.4h0M103.9 152.3h0M116.6 145.2h0M113.4 149.9h0M116.6 149.9h0M47.0 163.1h0M62.9 158.4h0M85.0 158.4h0M85.0 160.8h0M94.5 158.4h0M113.4 162.4h0M116.6 160.8h0M103.9 172.3h0M107.1 172.3h0M129.2 141.2h0M132.4 142.4h0M129.2 145.2h0M141.9 149.9h0M157.7 141.2h0M157.7 144.7h0M160.8 145.2h0M167.2 142.4h0M170.3 143.5h0M170.3 145.9h0M176.7 141.2h0M183.0 145.9h0M189.3 141.2h0M198.8 141.9h0M170.3 151.8h0M167.2 154.6h0M176.7 151.8h0M179.8 151.3h0M179.8 154.6h0M189.3 154.6h0M189.3 158.4h0M189.3 163.6h0M141.9 157.7h0M145.0 160.8h0M157.7 157.7h0M160.8 158.9h0M164.0 160.8h0M160.8 162.4h0M176.7 160.1h0M179.8 163.6h0M170.3 164.3h0M157.7 165.5h0M154.5 169.5h0M173.5 168.3h0M138.7 172.3h0M195.6 170.7h0M167.2 180.6h0M179.8 178.5h0M205.1 145.2h0M208.3 145.2h0M217.7 141.2h0M230.4 141.2h0M243.0 141.2h0M249.4 141.2h0M255.7 141.2h0M252.5 143.5h0M277.8 141.2h0M217.7 148.3h0M214.6 152.3h0M208.3 154.2h0M211.4 158.4h0M201.9 161.7h0M224.1 156.0h0M233.5 158.4h0M255.7 149.9h0M258.8 163.1h0M268.3 155.3h0M274.6 152.3h0M277.8 149.9h0M268.3 167.8h0M205.1 179.6h0M227.2 177.8h0M277.8 141.0h0M281.0 144.5h0M284.1 147.1h0M281.0 149.8h0M274.6 152.6h0M290.4 141.0h0M293.6 141.0h0M303.1 141.0h0M312.6 141.0h0M322.1 141.0h0M318.9 149.2h0M306.3 153.8h0M271.5 167.5h0M281.0 172.2h0M284.1 177.0h0M201.9 139.8h0M208.3 139.4h0M214.6 134.6h0M217.7 139.4h0M224.1 132.5h0M230.4 135.6h0M230.4 139.8h0M236.7 132.5h0M243.0 140.8h0M249.4 140.8h0M255.7 140.8h0M258.8 133.6h0M262.0 137.7h0M265.2 135.6h0M268.3 132.5h0"/>
<path fill="none" stroke="#d9d9d9" stroke-width="4.4" stroke-linecap="round" d="M47.4 328.8h0M47.4 319.5h0M47.4 320.4h0M47.4 349.4h0M47.4 341.0h0M47.4 321.3h0M47.4 336.3h0M47.4 329.7h0M47.4 318.5h0M47.4 339.1h0M47.4 322.3h0M47.4 321.3h0M47.4 315.7h0M47.4 331.6h0M47.4 325.1h0M47.4 333.5h0M47.4 318.5h0M47.4 327.9h0M47.4 314.8h0M47.4 337.2h0M47.4 328.8h0M47.4 330.7h0M47.4 331.6h0M47.4 312.9h0M47.4 336.3h0M47.4 304.5h0M47.4 303.5h0M47.4 306.4h0M47.4 337.2h0M47.4 327.9h0M47.4 340.0h0M47.4 335.4h0M47.4 328.8h0M47.4 329.7h0M47.4 324.1h0M47.4 337.2h0M47.4 311.0h0M47.4 320.4h0M47.4 328.8h0M47.4 349.4h0M47.4 315.7h0M47.4 312.0h0M47.4 318.5h0M47.4 338.2h0M47.4 323.2h0M47.4 342.8h0M47.4 301.7h0M47.4 341.0h0M47.4 339.1h0M47.4 307.3h0M50.6 327.9h0M50.6 341.9h0M50.6 326.9h0M50.6 339.1h0M50.6 329.7h0M50.6 322.3h0M50.6 315.7h0M50.6 334.4h0M50.6 323.2h0M50.6 324.1h0M50.6 325.1h0M50.6 334.4h0M50.6 312.0h0M50.6 306.4h0M50.6 341.9h0M50.6 326.9h0M50.6 345.6h0M50.6 326.0h0M50.6 316.6h0M50.6 332.5h0M50.6 325.1h0M50.6 310.1h0M50.6 314.8h0M50.6 349.4h0M50.6 330.7h0M50.6 331.6h0M50.6 322.3h0M50.6 316.6h0M50.6 337.2h0M50.6 325.1h0M50.6 315.7h0M50.6 324.1h0M50.6 313.8h0M50.6 328.8h0M50.6 341.0h0M50.6 314.8h0M50.6 344.7h0M50.6 317.6h0M50.6 327.9h0M50.6 314.8h0M50.6 323.2h0M50.6 326.9h0M50.6 320.4h0M50.6 316.6h0M50.6 317.6h0M50.6 315.7h0M50.6 305.4h0M50.6 322.3h0M50.6 331.6h0M50.6 338.2h0M50.6 334.4h0M50.6 329.7h0M50.6 320.4h0M50.6 350.3h0M50.6 312.0h0M50.6 338.2h0M50.6 313.8h0M50.6 330.7h0M50.6 300.7h0M50.6 337.2h0M50.6 324.1h0M50.6 313.8h0M50.6 347.5h0M50.6 336.3h0M50.6 326.9h0M50.6 316.6h0M50.6 325.1h0M53.8 324.1h0M53.8 335.4h0M53.8 336.3h0M53.8 317.6h0M53.8 318.5h0M53.8 319.5h0M53.8 308.2h0M53.8 318.5h0M53.8 325.1h0M53.8 335.4h0M53.8 342.8h0M53.8 315.7h0M53.8 333.5h0M53.8 320.4h0M53.8 325.1h0M53.8 332.5h0M53.8 313.8h0M53.8 315.7h0M53.8 328.8h0M53.8 321.3h0M53.8 330.7h0M53.8 305.4h0M53.8 334.4h0M53.8 314.8h0M53.8 348.5h0M53.8 322.3h0M53.8 340.0h0M53.8 308.2h0M53.8 331.6h0M53.8 314.8h0M53.8 319.5h0M53.8 326.0h0M53.8 322.3h0M53.8 329.7h0M53.8 335.4h0M53.8 334.4h0M53.8 325.1h0M53.8 308.2h0M53.8 315.7h0M53.8 323.2h0M53.8 298.9h0M53.8 335.4h0M53.8 323.2h0M53.8 323.2h0M53.8 338.2h0M53.8 334.4h0M53.8 328.8h0M53.8 312.9h0M53.8 329.7h0M53.8 330.7h0M53.8 314.8h0M53.8 339.1h0M53.8 332.5h0M53.8 300.7h0M53.8 327.9h0M53.8 309.2h0M53.8 341.0h0M53.8 336.3h0M53.8 312.0h0M53.8 314.8h0M53.8 326.9h0M53.8 323.2h0M53.8 345.6h0M53.8 335.4h0M53.8 322.3h0M53.8 333.5h0M53.8 299.8h0M53.8 329.7h0M53.8 337.2h0M53.8 324.1h0M53.8 316.6h0M53.8 333.5h0M53.8 328.8h0M53.8 311.0h0M53.8 344.7h0M53.8 301.7h0M53.8 332.5h0M53.8 318.5h0M53.8 338.2h0M53.8 314.8h0M53.8 342.8h0M53.8 329.7h0M53.8 303.5h0M57.0 300.7h0M57.0 322.3h0M57.0 342.8h0M57.0 327.9h0M57.0 326.9h0M57.0 323.2h0M57.0 335.4h0M57.0 330.7h0M57.0 329.7h0M57.0 312.9h0M57.0 341.9h0M57.0 343.8h0M57.0 309.2h0M57.0 335.4h0M57.0 319.5h0M57.0 301.7h0M57.0 334.4h0M57.0 333.5h0M57.0 318.5h0M57.0 302.6h0M57.0 341.0h0M57.0 318.5h0M57.0 319.5h0M57.0 338.2h0M57.0 320.4h0M57.0 334.4h0M57.0 326.9h0M57.0 315.7h0M57.0 309.2h0M57.0 305.4h0M57.0 332.5h0M57.0 326.9h0M57.0 327.9h0M57.0 337.2h0M57.0 314.8h0M57.0 310.1h0M57.0 302.6h0M57.0 321.3h0M57.0 336.3h0M57.0 324.1h0M57.0 334.4h0M57.0 311.0h0M57.0 319.5h0M57.0 315.7h0M57.0 310.1h0M57.0 350.3h0M57.0 337.2h0M57.0 315.7h0M57.0 315.7h0M57.0 325.1h0M57.0 307.3h0M57.0 331.6h0M57.0 309.2h0M57.0 321.3h0M57.0 312.9h0M57.0 319.5h0M57.0 309.2h0M57.0 305.4h0M57.0 313.8h0M57.0 317.6h0M57.0 322.3h0M57.0 326.9h0M57.0 345.6h0M57.0 336.3h0M57.0 322.3h0M57.0 335.4h0M57.0 316.6h0M57.0 344.7h0M57.0 333.5h0M57.0 308.2h0M57.0 335.4h0M57.0 336.3h0M57.0 316.6h0M57.0 319.5h0M57.0 300.7h0M57.0 312.0h0M57.0 313.8h0M57.0 332.5h0M57.0 329.7h0M57.0 321.3h0M57.0 341.0h0M57.0 326.9h0M57.0 329.7h0M57.0 311.0h0M60.1 300.7h0M60.1 315.7h0M60.1 336.3h0M60.1 346.6h0M60.1 333.5h0M60.1 332.5h0M60.1 314.8h0M60.1 345.6h0M60.1 343.8h0M60.1 319.5h0M60.1 325.1h0M60.1 312.9h0M60.1 344.7h0M60.1 331.6h0M60.1 325.1h0M60.1 331.6h0M60.1 331.6h0M60.1 320.4h0M60.1 310.1h0M60.1 309.2h0M60.1 303.5h0M60.1 331.6h0M60.1 303.5h0M60.1 327.9h0M60.1 331.6h0M60.1 312.9h0M60.1 328.8h0M60.1 312.0h0M60.1 341.9h0M60.1 318.5h0M60.1 326.9h0M60.1 335.4h0M60.1 320.4h0M60.1 302.6h0M60.1 319.5h0M60.1 336.3h0M60.1 325.1h0M60.1 328.8h0M60.1 312.0h0M60.1 327.9h0M60.1 335.4h0M60.1 326.9h0M60.1 323.2h0M60.1 312.9h0M60.1 305.4h0M60.1 341.0h0M60.1 325.1h0M60.1 339.1h0M60.1 331.6h0M60.1 347.5h0M60.1 342.8h0M60.1 321.3h0M60.1 329.7h0M60.1 340.0h0M60.1 310.1h0M60.1 344.7h0M60.1 341.9h0M60.1 339.1h0M60.1 323.2h0M60.1 329.7h0M60.1 311.0h0M60.1 326.9h0M60.1 318.5h0M60.1 326.9h0M60.1 319.5h0M60.1 329.7h0M60.1 341.0h0M60.1 309.2h0M60.1 338.2h0M60.1 299.8h0M60.1 297.9h0M60.1 324.1h0M60.1 326.0h0M60.1 331.6h0M60.1 304.5h0M60.1 325.1h0M60.1 327.9h0M60.1 341.9h0M60.1 325.1h0M60.1 332.5h0M60.1 312.9h0M60.1 323.2h0M60.1 320.4h0M60.1 335.4h0M60.1 312.9h0M60.1 314.8h0M60.1 333.5h0M60.1 349.4h0M63.3 330.7h0M63.3 329.7h0M63.3 321.3h0M63.3 340.0h0M63.3 333.5h0M63.3 348.5h0M63.3 330.7h0M63.3 313.8h0M63.3 318.5h0M63.3 312.9h0M63.3 310.1h0M63.3 342.8h0M63.3 336.3h0M63.3 310.1h0M63.3 349.4h0M63.3 328.8h0M63.3 313.8h0M63.3 330.7h0M63.3 325.1h0M63.3 315.7h0M63.3 300.7h0M63.3 326.9h0M63.3 329.7h0M63.3 333.5h0M63.3 334.4h0M63.3 319.5h0M63.3 327.9h0M63.3 322.3h0M63.3 314.8h0M63.3 321.3h0M63.3 343.8h0M63.3 307.3h0M63.3 328.8h0M63.3 328.8h0M63.3 316.6h0M63.3 320.4h0M63.3 308.2h0M63.3 314.8h0M63.3 326.0h0M63.3 330.7h0M63.3 314.8h0M63.3 318.5h0M63.3 327.9h0M63.3 323.2h0M63.3 320.4h0M63.3 342.8h0M63.3 319.5h0M63.3 343.8h0M63.3 341.0h0M63.3 312.0h0M63.3 339.1h0M63.3 317.6h0M63.3 321.3h0M63.3 313.8h0M63.3 300.7h0M63.3 309.2h0M63.3 318.5h0M63.3 312.9h0M63.3 310.1h0M63.3 316.6h0M63.3 323.2h0M63.3 344.7h0M63.3 303.5h0M63.3 318.5h0M63.3 313.8h0M63.3 306.4h0M63.3 309.2h0M63.3 313.8h0M63.3 335.4h0M63.3 323.2h0M63.3 319.5h0M63.3 333.5h0M63.3 329.7h0M63.3 323.2h0M63.3 330.7h0M63.3 314.8h0M63.3 334.4h0M63.3 331.6h0M63.3 320.4h0M63.3 310.1h0M63.3 345.6h0M63.3 326.9h0M63.3 317.6h0M63.3 337.2h0M63.3 320.4h0M63.3 329.7h0M66.5 337.2h0M66.5 315.7h0M66.5 325.1h0M66.5 327.9h0M66.5 327.9h0M66.5 333.5h0M66.5 339.1h0M66.5 337.2h0M66.5 329.7h0M66.5 321.3h0M66.5 311.0h0M66.5 316.6h0M66.5 319.5h0M66.5 334.4h0M66.5 321.3h0M66.5 310.1h0M66.5 334.4h0M66.5 315.7h0M66.5 315.7h0M66.5 323.2h0M66.5 332.5h0M66.5 311.0h0M66.5 327.9h0M66.5 321.3h0M66.5 314.8h0M66.5 318.5h0M66.5 343.8h0M66.5 320.4h0M66.5 335.4h0M66.5 336.3h0M66.5 320.4h0M66.5 331.6h0M66.5 320.4h0M66.5 318.5h0M66.5 311.0h0M66.5 337.2h0M66.5 320.4h0M66.5 318.5h0M66.5 311.0h0M66.5 349.4h0M66.5 335.4h0M66.5 324.1h0M66.5 316.6h0M66.5 306.4h0M66.5 329.7h0M66.5 329.7h0M66.5 307.3h0M66.5 341.0h0M66.5 336.3h0M66.5 313.8h0M66.5 318.5h0M66.5 320.4h0M66.5 327.9h0M66.5 324.1h0M66.5 304.5h0M66.5 344.7h0M66.5 329.7h0M66.5 342.8h0M66.5 341.9h0M66.5 323.2h0M66.5 330.7h0M66.5 335.4h0M66.5 336.3h0M66.5 324.1h0M66.5 317.6h0M66.5 326.0h0M66.5 315.7h0M66.5 318.5h0M66.5 299.8h0M66.5 326.9h0M66.5 312.9h0M66.5 318.5h0M66.5 325.1h0M66.5 329.7h0M66.5 350.3h0M66.5 328.8h0M66.5 307.3h0M66.5 327.9h0M66.5 318.5h0M66.5 331.6h0M66.5 316.6h0M66.5 316.6h0M66.5 319.5h0M66.5 317.6h0M66.5 302.6h0M66.5 317.6h0M66.5 326.0h0M66.5 341.9h0M66.5 322.3h0M69.7 321.3h0M69.7 333.5h0M69.7 332.5h0M69.7 346.6h0M69.7 333.5h0M69.7 326.0h0M69.7 343.8h0M69.7 345.6h0M69.7 319.5h0M69.7 327.9h0M69.7 304.5h0M69.7 321.3h0M69.7 314.8h0M69.7 323.2h0M69.7 319.5h0M69.7 324.1h0M69.7 325.1h0M69.7 332.5h0M69.7 328.8h0M69.7 318.5h0M69.7 309.2h0M69.7 341.9h0M69.7 344.7h0M69.7 320.4h0M69.7 333.5h0M69.7 306.4h0M69.7 305.4h0M69.7 322.3h0M69.7 344.7h0M69.7 312.0h0M69.7 314.8h0M69.7 346.6h0M69.7 301.7h0M69.7 334.4h0M69.7 332.5h0M69.7 323.2h0M69.7 328.8h0M69.7 311.0h0M69.7 322.3h0M69.7 323.2h0M69.7 316.6h0M69.7 308.2h0M69.7 346.6h0M69.7 328.8h0M69.7 303.5h0M69.7 316.6h0M69.7 331.6h0M69.7 331.6h0M69.7 307.3h0M69.7 325.1h0M69.7 329.7h0M69.7 330.7h0M69.7 330.7h0M69.7 302.6h0M69.7 350.3h0M69.7 328.8h0M69.7 349.4h0M69.7 324.1h0M69.7 310.1h0M69.7 337.2h0M69.7 323.2h0M69.7 320.4h0M69.7 312.9h0M69.7 347.5h0M69.7 320.4h0M69.7 308.2h0M69.7 320.4h0M69.7 311.0h0M69.7 327.9h0M69.7 320.4h0M69.7 312.0h0M69.7 333.5h0M69.7 317.6h0M69.7 335.4h0M69.7 342.8h0M69.7 321.3h0M69.7 317.6h0M69.7 328.8h0M69.7 337.2h0M69.7 326.0h0M69.7 327.9h0M69.7 326.0h0M69.7 329.7h0M69.7 334.4h0M69.7 316.6h0M69.7 319.5h0M69.7 326.9h0M69.7 317.6h0M72.8 327.9h0M72.8 332.5h0M72.8 326.0h0M72.8 318.5h0M72.8 315.7h0M72.8 348.5h0M72.8 337.2h0M72.8 311.0h0M72.8 314.8h0M72.8 345.6h0M72.8 327.9h0M72.8 341.0h0M72.8 306.4h0M72.8 326.0h0M72.8 335.4h0M72.8 301.7h0M72.8 315.7h0M72.8 336.3h0M72.8 341.0h0M72.8 318.5h0M72.8 329.7h0M72.8 346.6h0M72.8 321.3h0M72.8 308.2h0M72.8 325.1h0M72.8 321.3h0M72.8 342.8h0M72.8 327.9h0M72.8 315.7h0M72.8 319.5h0M72.8 332.5h0M72.8 334.4h0M72.8 336.3h0M72.8 327.9h0M72.8 333.5h0M72.8 325.1h0M72.8 307.3h0M72.8 323.2h0M72.8 323.2h0M72.8 324.1h0M72.8 327.9h0M72.8 317.6h0M72.8 342.8h0M72.8 346.6h0M72.8 326.0h0M72.8 316.6h0M72.8 331.6h0M72.8 317.6h0M72.8 321.3h0M72.8 317.6h0M72.8 340.0h0M72.8 341.9h0M72.8 329.7h0M72.8 335.4h0M72.8 324.1h0M72.8 327.9h0M72.8 316.6h0M72.8 326.0h0M72.8 316.6h0M72.8 330.7h0M72.8 336.3h0M72.8 329.7h0M72.8 341.0h0M72.8 298.9h0M72.8 326.0h0M72.8 318.5h0M72.8 320.4h0M72.8 308.2h0M72.8 326.9h0M72.8 322.3h0M72.8 317.6h0M72.8 322.3h0M72.8 318.5h0M72.8 340.0h0M72.8 322.3h0M72.8 313.8h0M72.8 329.7h0M72.8 317.6h0M72.8 297.9h0M72.8 337.2h0M72.8 304.5h0M72.8 323.2h0M72.8 327.9h0M72.8 343.8h0M76.0 341.9h0M76.0 327.9h0M76.0 315.7h0M76.0 320.4h0M76.0 340.0h0M76.0 349.4h0M76.0 333.5h0M76.0 317.6h0M76.0 339.1h0M76.0 321.3h0M76.0 320.4h0M76.0 322.3h0M76.0 333.5h0M76.0 329.7h0M76.0 339.1h0M76.0 342.8h0M76.0 332.5h0M76.0 303.5h0M76.0 327.9h0M76.0 325.1h0M76.0 326.0h0M76.0 324.1h0M76.0 338.2h0M76.0 340.0h0M76.0 323.2h0M76.0 332.5h0M76.0 311.0h0M76.0 313.8h0M76.0 341.9h0M76.0 307.3h0M76.0 338.2h0M76.0 334.4h0M76.0 336.3h0M76.0 338.2h0M76.0 333.5h0M76.0 297.9h0M76.0 312.9h0M76.0 318.5h0M76.0 338.2h0M76.0 311.0h0M76.0 316.6h0M76.0 321.3h0M76.0 342.8h0M76.0 307.3h0M76.0 308.2h0M76.0 334.4h0M76.0 297.9h0M76.0 330.7h0M76.0 320.4h0M76.0 305.4h0M76.0 320.4h0M76.0 312.9h0M76.0 327.9h0M76.0 330.7h0M76.0 345.6h0M76.0 326.0h0M76.0 326.9h0M76.0 318.5h0M76.0 326.0h0M76.0 340.0h0M76.0 300.7h0M76.0 334.4h0M76.0 319.5h0M76.0 326.9h0M76.0 330.7h0M76.0 337.2h0M76.0 328.8h0M76.0 321.3h0M76.0 329.7h0M76.0 326.0h0M76.0 323.2h0M76.0 328.8h0M76.0 337.2h0M76.0 327.9h0M76.0 327.9h0M76.0 309.2h0M76.0 324.1h0M76.0 301.7h0M76.0 335.4h0M76.0 313.8h0M76.0 342.8h0M76.0 320.4h0M76.0 342.8h0M76.0 331.6h0M76.0 318.5h0M76.0 314.8h0M76.0 333.5h0M79.2 343.8h0M79.2 330.7h0M79.2 306.4h0M79.2 312.9h0M79.2 323.2h0M79.2 343.8h0M79.2 329.7h0M79.2 330.7h0M79.2 341.9h0M79.2 323.2h0M79.2 325.1h0M79.2 323.2h0M79.2 302.6h0M79.2 331.6h0M79.2 331.6h0M79.2 339.1h0M79.2 310.1h0M79.2 315.7h0M79.2 338.2h0M79.2 329.7h0M79.2 343.8h0M79.2 314.8h0M79.2 328.8h0M79.2 317.6h0M79.2 329.7h0M79.2 319.5h0M79.2 332.5h0M79.2 340.0h0M79.2 334.4h0M79.2 302.6h0M79.2 338.2h0M79.2 331.6h0M79.2 312.9h0M79.2 314.8h0M79.2 326.0h0M79.2 333.5h0M79.2 320.4h0M79.2 304.5h0M79.2 329.7h0M79.2 327.9h0M79.2 309.2h0M79.2 348.5h0M79.2 329.7h0M79.2 347.5h0M79.2 326.9h0M79.2 339.1h0M79.2 316.6h0M79.2 326.9h0M79.2 312.9h0M79.2 305.4h0M79.2 322.3h0M79.2 317.6h0M79.2 333.5h0M79.2 342.8h0M79.2 324.1h0M79.2 326.9h0M79.2 328.8h0M79.2 304.5h0M79.2 329.7h0M79.2 326.0h0M79.2 325.1h0M79.2 312.0h0M79.2 299.8h0M79.2 323.2h0M79.2 329.7h0M79.2 343.8h0M79.2 341.0h0M79.2 344.7h0M79.2 330.7h0M79.2 341.0h0M79.2 323.2h0M79.2 334.4h0M79.2 338.2h0M79.2 328.8h0M79.2 309.2h0M79.2 343.8h0M79.2 315.7h0M79.2 325.1h0M79.2 322.3h0M79.2 313.8h0M79.2 343.8h0M79.2 333.5h0M79.2 317.6h0M79.2 326.9h0M79.2 320.4h0M79.2 334.4h0M79.2 321.3h0M82.4 315.7h0M82.4 317.6h0M82.4 320.4h0M82.4 329.7h0M82.4 313.8h0M82.4 325.1h0M82.4 331.6h0M82.4 337.2h0M82.4 319.5h0M82.4 320.4h0M82.4 329.7h0M82.4 346.6h0M82.4 335.4h0M82.4 329.7h0M82.4 327.9h0M82.4 331.6h0M82.4 343.8h0M82.4 312.0h0M82.4 340.0h0M82.4 304.5h0M82.4 326.9h0M82.4 330.7h0M82.4 316.6h0M82.4 303.5h0M82.4 335.4h0M82.4 317.6h0M82.4 346.6h0M82.4 316.6h0M82.4 314.8h0M82.4 341.9h0M82.4 326.9h0M82.4 339.1h0M82.4 307.3h0M82.4 347.5h0M82.4 318.5h0M82.4 336.3h0M82.4 312.9h0M82.4 305.4h0M82.4 322.3h0M82.4 327.9h0M82.4 346.6h0M82.4 330.7h0M82.4 335.4h0M82.4 334.4h0M82.4 315.7h0M82.4 341.9h0M82.4 324.1h0M82.4 329.7h0M82.4 318.5h0M82.4 341.0h0M82.4 310.1h0M82.4 309.2h0M82.4 323.2h0M82.4 311.0h0M82.4 335.4h0M82.4 338.2h0M82.4 316.6h0M82.4 336.3h0M82.4 317.6h0M82.4 325.1h0M82.4 326.0h0M82.4 326.0h0M82.4 313.8h0M82.4 313.8h0M82.4 341.9h0M82.4 304.5h0M82.4 319.5h0M82.4 321.3h0M82.4 319.5h0M82.4 339.1h0M82.4 328.8h0M82.4 313.8h0M82.4 335.4h0M82.4 332.5h0M82.4 316.6h0M82.4 321.3h0M82.4 326.9h0M82.4 324.1h0M82.4 326.9h0M82.4 325.1h0M82.4 316.6h0M82.4 305.4h0M85.6 318.5h0M85.6 308.2h0M85.6 312.0h0M85.6 318.5h0M85.6 332.5h0M85.6 337.2h0M85.6 312.0h0M85.6 329.7h0M85.6 336.3h0M85.6 325.1h0M85.6 304.5h0M85.6 297.9h0M85.6 336.3h0M85.6 337.2h0M85.6 329.7h0M85.6 312.0h0M85.6 344.7h0M85.6 341.9h0M85.6 325.1h0M85.6 323.2h0M85.6 299.8h0M85.6 335.4h0M85.6 304.5h0M85.6 334.4h0M85.6 335.4h0M85.6 326.9h0M85.6 346.6h0M85.6 321.3h0M85.6 333.5h0M85.6 336.3h0M85.6 328.8h0M85.6 320.4h0M85.6 341.9h0M85.6 331.6h0M85.6 323.2h0M85.6 323.2h0M85.6 326.9h0M85.6 326.9h0M85.6 322.3h0M85.6 312.0h0M85.6 310.1h0M85.6 300.7h0M85.6 328.8h0M85.6 326.0h0M85.6 312.0h0M85.6 306.4h0M85.6 321.3h0M85.6 318.5h0M85.6 308.2h0M85.6 329.7h0M85.6 327.9h0M85.6 325.1h0M85.6 335.4h0M85.6 317.6h0M85.6 342.8h0M85.6 312.0h0M85.6 332.5h0M85.6 333.5h0M85.6 322.3h0M85.6 329.7h0M85.6 309.2h0M85.6 306.4h0M85.6 323.2h0M85.6 315.7h0M85.6 333.5h0M85.6 326.0h0M85.6 333.5h0M85.6 329.7h0M85.6 327.9h0M85.6 326.9h0M85.6 320.4h0M85.6 319.5h0M85.6 302.6h0M85.6 323.2h0M85.6 339.1h0M85.6 330.7h0M85.6 343.8h0M85.6 332.5h0M85.6 309.2h0M85.6 321.3h0M85.6 307.3h0M85.6 338.2h0M85.6 344.7h0M85.6 319.5h0M85.6 332.5h0M85.6 320.4h0M85.6 306.4h0M85.6 319.5h0M88.7 304.5h0M88.7 318.5h0M88.7 327.9h0M88.7 335.4h0M88.7 341.9h0M88.7 321.3h0M88.7 328.8h0M88.7 330.7h0M88.7 332.5h0M88.7 315.7h0M88.7 335.4h0M88.7 311.0h0M88.7 328.8h0M88.7 336.3h0M88.7 300.7h0M88.7 323.2h0M88.7 328.8h0M88.7 325.1h0M88.7 305.4h0M88.7 329.7h0M88.7 317.6h0M88.7 336.3h0M88.7 330.7h0M88.7 318.5h0M88.7 327.9h0M88.7 316.6h0M88.7 315.7h0M88.7 304.5h0M88.7 322.3h0M88.7 335.4h0M88.7 326.9h0M88.7 325.1h0M88.7 316.6h0M88.7 318.5h0M88.7 334.4h0M88.7 305.4h0M88.7 324.1h0M88.7 340.0h0M88.7 319.5h0M88.7 334.4h0M88.7 327.9h0M88.7 330.7h0M88.7 335.4h0M88.7 317.6h0M88.7 316.6h0M88.7 319.5h0M88.7 307.3h0M88.7 321.3h0M88.7 327.9h0M88.7 327.9h0M88.7 326.9h0M88.7 319.5h0M88.7 334.4h0M88.7 297.9h0M88.7 319.5h0M88.7 320.4h0M88.7 336.3h0M88.7 332.5h0M88.7 334.4h0M88.7 324.1h0M88.7 336.3h0M88.7 311.0h0M88.7 325.1h0M88.7 346.6h0M88.7 344.7h0M88.7 316.6h0M88.7 312.9h0M88.7 304.5h0M88.7 326.0h0M88.7 322.3h0M88.7 304.5h0M88.7 317.6h0M88.7 315.7h0M88.7 329.7h0M88.7 333.5h0M88.7 321.3h0M88.7 326.0h0M88.7 324.1h0M88.7 326.0h0M88.7 323.2h0M88.7 333.5h0M88.7 299.8h0M88.7 334.4h0M88.7 315.7h0M91.9 327.9h0M91.9 340.0h0M91.9 304.5h0M91.9 307.3h0M91.9 337.2h0M91.9 309.2h0M91.9 312.0h0M91.9 331.6h0M91.9 321.3h0M91.9 334.4h0M91.9 327.9h0M91.9 324.1h0M91.9 337.2h0M91.9 323.2h0M91.9 343.8h0M91.9 339.1h0M91.9 326.0h0M91.9 329.7h0M91.9 312.0h0M91.9 316.6h0M91.9 327.9h0M91.9 323.2h0M91.9 341.0h0M91.9 307.3h0M91.9 320.4h0M91.9 315.7h0M91.9 322.3h0M91.9 339.1h0M91.9 308.2h0M91.9 335.4h0M91.9 316.6h0M91.9 320.4h0M91.9 337.2h0M91.9 320.4h0M91.9 332.5h0M91.9 326.0h0M91.9 322.3h0M91.9 319.5h0M91.9 301.7h0M91.9 314.8h0M91.9 326.9h0M91.9 326.9h0M91.9 304.5h0M91.9 337.2h0M91.9 331.6h0M91.9 307.3h0M91.9 311.0h0M91.9 330.7h0M91.9 301.7h0M91.9 314.8h0M91.9 324.1h0M91.9 323.2h0M91.9 324.1h0M91.9 329.7h0M91.9 313.8h0M91.9 318.5h0M91.9 306.4h0M91.9 318.5h0M91.9 326.0h0M91.9 315.7h0M91.9 340.0h0M91.9 325.1h0M91.9 334.4h0M91.9 340.0h0M91.9 339.1h0M91.9 314.8h0M91.9 341.9h0M91.9 327.9h0M91.9 336.3h0M91.9 348.5h0M91.9 326.0h0M91.9 312.0h0M91.9 324.1h0M91.9 308.2h0M91.9 314.8h0M91.9 314.8h0M91.9 315.7h0M91.9 340.0h0M91.9 335.4h0M91.9 312.9h0M91.9 339.1h0M91.9 302.6h0M91.9 316.6h0M91.9 323.2h0M91.9 340.0h0M91.9 334.4h0M91.9 330.7h0M95.1 341.9h0M95.1 334.4h0M95.1 342.8h0M95.1 314.8h0M95.1 302.6h0M95.1 319.5h0M95.1 336.3h0M95.1 328.8h0M95.1 336.3h0M95.1 334.4h0M95.1 331.6h0M95.1 335.4h0M95.1 315.7h0M95.1 339.1h0M95.1 312.0h0M95.1 324.1h0M95.1 306.4h0M95.1 331.6h0M95.1 305.4h0M95.1 343.8h0M95.1 307.3h0M95.1 328.8h0M95.1 323.2h0M95.1 313.8h0M95.1 341.0h0M95.1 319.5h0M95.1 344.7h0M95.1 312.0h0M95.1 314.8h0M95.1 298.9h0M95.1 332.5h0M95.1 337.2h0M95.1 327.9h0M95.1 323.2h0M95.1 312.9h0M95.1 334.4h0M95.1 300.7h0M95.1 321.3h0M95.1 345.6h0M95.1 344.7h0M95.1 324.1h0M95.1 317.6h0M95.1 307.3h0M95.1 332.5h0M95.1 315.7h0M95.1 320.4h0M95.1 316.6h0M95.1 321.3h0M95.1 337.2h0M95.1 347.5h0M95.1 326.9h0M95.1 325.1h0M95.1 311.0h0M95.1 309.2h0M95.1 311.0h0M95.1 337.2h0M95.1 328.8h0M95.1 338.2h0M95.1 330.7h0M95.1 320.4h0M95.1 309.2h0M95.1 320.4h0M95.1 306.4h0M95.1 328.8h0M95.1 320.4h0M95.1 320.4h0M95.1 332.5h0M95.1 323.2h0M95.1 329.7h0M95.1 320.4h0M95.1 331.6h0M95.1 343.8h0M95.1 309.2h0M95.1 342.8h0M95.1 327.9h0M95.1 337.2h0M95.1 321.3h0M95.1 345.6h0M95.1 349.4h0M95.1 310.1h0M95.1 334.4h0M95.1 317.6h0M95.1 304.5h0M95.1 321.3h0M98.3 332.5h0M98.3 307.3h0M98.3 308.2h0M98.3 341.9h0M98.3 326.0h0M98.3 330.7h0M98.3 310.1h0M98.3 316.6h0M98.3 326.9h0M98.3 327.9h0M98.3 326.9h0M98.3 345.6h0M98.3 326.9h0M98.3 304.5h0M98.3 313.8h0M98.3 324.1h0M98.3 341.9h0M98.3 315.7h0M98.3 319.5h0M98.3 324.1h0M98.3 315.7h0M98.3 313.8h0M98.3 321.3h0M98.3 337.2h0M98.3 330.7h0M98.3 320.4h0M98.3 329.7h0M98.3 307.3h0M98.3 337.2h0M98.3 334.4h0M98.3 327.9h0M98.3 302.6h0M98.3 311.0h0M98.3 312.0h0M98.3 333.5h0M98.3 304.5h0M98.3 327.9h0M98.3 322.3h0M98.3 320.4h0M98.3 335.4h0M98.3 342.8h0M98.3 329.7h0M98.3 320.4h0M98.3 343.8h0M98.3 320.4h0M98.3 299.8h0M98.3 326.9h0M98.3 343.8h0M98.3 322.3h0M98.3 309.2h0M98.3 332.5h0M98.3 328.8h0M98.3 338.2h0M98.3 323.2h0M98.3 322.3h0M98.3 317.6h0M98.3 317.6h0M98.3 306.4h0M98.3 313.8h0M98.3 322.3h0M98.3 327.9h0M98.3 322.3h0M98.3 331.6h0M98.3 333.5h0M98.3 342.8h0M98.3 333.5h0M98.3 317.6h0M98.3 304.5h0M98.3 329.7h0M98.3 313.8h0M98.3 341.9h0M98.3 314.8h0M98.3 325.1h0M98.3 339.1h0M98.3 322.3h0M98.3 326.9h0M98.3 326.9h0M98.3 347.5h0M98.3 328.8h0M98.3 324.1h0M98.3 316.6h0M98.3 302.6h0M101.4 342.8h0M101.4 340.0h0M101.4 312.0h0M101.4 332.5h0M101.4 328.8h0M101.4 319.5h0M101.4 320.4h0M101.4 334.4h0M101.4 309.2h0M101.4 317.6h0M101.4 324.1h0M101.4 324.1h0M101.4 322.3h0M101.4 327.9h0M101.4 331.6h0M101.4 312.9h0M101.4 326.0h0M101.4 317.6h0M101.4 344.7h0M101.4 306.4h0M101.4 321.3h0M101.4 333.5h0M101.4 321.3h0M101.4 320.4h0M101.4 317.6h0M101.4 328.8h0M101.4 309.2h0M101.4 324.1h0M101.4 323.2h0M101.4 305.4h0M101.4 328.8h0M101.4 318.5h0M101.4 328.8h0M101.4 336.3h0M101.4 329.7h0M101.4 309.2h0M101.4 328.8h0M101.4 303.5h0M101.4 314.8h0M101.4 346.6h0M101.4 325.1h0M101.4 345.6h0M101.4 322.3h0M101.4 325.1h0M101.4 310.1h0M101.4 337.2h0M101.4 322.3h0M101.4 333.5h0M101.4 330.7h0M101.4 332.5h0M101.4 329.7h0M101.4 325.1h0M101.4 325.1h0M101.4 316.6h0M101.4 331.6h0M101.4 340.0h0M101.4 331.6h0M101.4 312.9h0M101.4 312.9h0M101.4 335.4h0M101.4 330.7h0M101.4 323.2h0M101.4 335.4h0M101.4 313.8h0M101.4 332.5h0M101.4 322.3h0M101.4 327.9h0M101.4 341.9h0M101.4 324.1h0M101.4 343.8h0M101.4 343.8h0M101.4 315.7h0M101.4 310.1h0M101.4 325.1h0M101.4 335.4h0M101.4 340.0h0M101.4 341.0h0M101.4 325.1h0M101.4 329.7h0M101.4 328.8h0M101.4 323.2h0M101.4 340.0h0M101.4 321.3h0M101.4 326.0h0M101.4 330.7h0M104.6 337.2h0M104.6 341.0h0M104.6 306.4h0M104.6 299.8h0M104.6 324.1h0M104.6 325.1h0M104.6 312.0h0M104.6 329.7h0M104.6 334.4h0M104.6 331.6h0M104.6 347.5h0M104.6 312.9h0M104.6 326.0h0M104.6 335.4h0M104.6 311.0h0M104.6 328.8h0M104.6 341.9h0M104.6 334.4h0M104.6 341.9h0M104.6 311.0h0M104.6 323.2h0M104.6 341.9h0M104.6 313.8h0M104.6 325.1h0M104.6 301.7h0M104.6 345.6h0M104.6 324.1h0M104.6 333.5h0M104.6 306.4h0M104.6 309.2h0M104.6 321.3h0M104.6 318.5h0M104.6 332.5h0M104.6 333.5h0M104.6 299.8h0M104.6 312.9h0M104.6 326.9h0M104.6 326.0h0M104.6 330.7h0M104.6 320.4h0M104.6 322.3h0M104.6 328.8h0M104.6 316.6h0M104.6 314.8h0M104.6 318.5h0M104.6 326.0h0M104.6 324.1h0M104.6 319.5h0M104.6 322.3h0M104.6 325.1h0M104.6 329.7h0M104.6 330.7h0M104.6 309.2h0M104.6 339.1h0M104.6 304.5h0M104.6 333.5h0M104.6 316.6h0M104.6 333.5h0M104.6 340.0h0M104.6 300.7h0M104.6 333.5h0M104.6 329.7h0M104.6 319.5h0M104.6 330.7h0M104.6 319.5h0M104.6 326.9h0M104.6 312.0h0M104.6 336.3h0M104.6 333.5h0M104.6 335.4h0M104.6 317.6h0M104.6 325.1h0M104.6 320.4h0M104.6 320.4h0M104.6 334.4h0M104.6 339.1h0M104.6 315.7h0M104.6 298.9h0M104.6 331.6h0M104.6 325.1h0M104.6 327.9h0M104.6 332.5h0M104.6 311.0h0M104.6 326.9h0M104.6 322.3h0M107.8 330.7h0M107.8 341.9h0M107.8 326.0h0M107.8 314.8h0M107.8 341.9h0M107.8 335.4h0M107.8 323.2h0M107.8 301.7h0M107.8 313.8h0M107.8 327.9h0M107.8 332.5h0M107.8 318.5h0M107.8 331.6h0M107.8 317.6h0M107.8 320.4h0M107.8 332.5h0M107.8 322.3h0M107.8 326.9h0M107.8 337.2h0M107.8 340.0h0M107.8 317.6h0M107.8 322.3h0M107.8 308.2h0M107.8 308.2h0M107.8 328.8h0M107.8 318.5h0M107.8 300.7h0M107.8 332.5h0M107.8 314.8h0M107.8 321.3h0M107.8 330.7h0M107.8 330.7h0M107.8 324.1h0M107.8 298.9h0M107.8 332.5h0M107.8 317.6h0M107.8 306.4h0M107.8 342.8h0M107.8 326.9h0M107.8 326.9h0M107.8 333.5h0M107.8 324.1h0M107.8 306.4h0M107.8 334.4h0M107.8 338.2h0M107.8 331.6h0M107.8 345.6h0M107.8 314.8h0M107.8 319.5h0M107.8 337.2h0M107.8 327.9h0M107.8 327.9h0M107.8 337.2h0M107.8 335.4h0M107.8 319.5h0M107.8 326.9h0M107.8 315.7h0M107.8 323.2h0M107.8 311.0h0M107.8 299.8h0M107.8 318.5h0M107.8 317.6h0M107.8 337.2h0M107.8 345.6h0M107.8 326.0h0M107.8 331.6h0M107.8 317.6h0M107.8 313.8h0M107.8 321.3h0M107.8 321.3h0M107.8 329.7h0M107.8 326.9h0M107.8 347.5h0M107.8 323.2h0M107.8 304.5h0M107.8 326.9h0M107.8 316.6h0M107.8 327.9h0M107.8 340.0h0M107.8 317.6h0M107.8 325.1h0M107.8 332.5h0M107.8 312.9h0M107.8 328.8h0M107.8 332.5h0M107.8 336.3h0M107.8 340.0h0M107.8 332.5h0M111.0 330.7h0M111.0 307.3h0M111.0 312.9h0M111.0 343.8h0M111.0 326.9h0M111.0 320.4h0M111.0 330.7h0M111.0 301.7h0M111.0 333.5h0M111.0 311.0h0M111.0 339.1h0M111.0 326.0h0M111.0 308.2h0M111.0 329.7h0M111.0 306.4h0M111.0 341.0h0M111.0 327.9h0M111.0 338.2h0M111.0 326.9h0M111.0 311.0h0M111.0 317.6h0M111.0 310.1h0M111.0 312.0h0M111.0 327.9h0M111.0 340.0h0M111.0 337.2h0M111.0 332.5h0M111.0 318.5h0M111.0 332.5h0M111.0 314.8h0M111.0 328.8h0M111.0 337.2h0M111.0 323.2h0M111.0 319.5h0M111.0 320.4h0M111.0 333.5h0M111.0 322.3h0M111.0 307.3h0M111.0 320.4h0M111.0 312.0h0M111.0 345.6h0M111.0 326.0h0M111.0 307.3h0M111.0 329.7h0M111.0 335.4h0M111.0 330.7h0M111.0 321.3h0M111.0 327.9h0M111.0 329.7h0M111.0 339.1h0M111.0 330.7h0M111.0 323.2h0M111.0 345.6h0M111.0 326.0h0M111.0 303.5h0M111.0 311.0h0M111.0 302.6h0M111.0 303.5h0M111.0 341.9h0M111.0 317.6h0M111.0 333.5h0M111.0 314.8h0M111.0 326.0h0M111.0 312.0h0M111.0 337.2h0M111.0 322.3h0M111.0 320.4h0M111.0 324.1h0M111.0 331.6h0M111.0 337.2h0M111.0 310.1h0M111.0 317.6h0M111.0 329.7h0M111.0 301.7h0M111.0 342.8h0M111.0 329.7h0M111.0 326.0h0M111.0 323.2h0M111.0 323.2h0M111.0 319.5h0M111.0 343.8h0M111.0 334.4h0M111.0 341.9h0M111.0 322.3h0M111.0 314.8h0M114.2 343.8h0M114.2 310.1h0M114.2 318.5h0M114.2 335.4h0M114.2 340.0h0M114.2 309.2h0M114.2 322.3h0M114.2 326.0h0M114.2 324.1h0M114.2 314.8h0M114.2 334.4h0M114.2 319.5h0M114.2 323.2h0M114.2 324.1h0M114.2 300.7h0M114.2 335.4h0M114.2 332.5h0M114.2 319.5h0M114.2 327.9h0M114.2 326.9h0M114.2 324.1h0M114.2 330.7h0M114.2 324.1h0M114.2 319.5h0M114.2 315.7h0M114.2 347.5h0M114.2 328.8h0M114.2 326.0h0M114.2 335.4h0M114.2 321.3h0M114.2 321.3h0M114.2 334.4h0M114.2 339.1h0M114.2 334.4h0M114.2 306.4h0M114.2 326.9h0M114.2 326.0h0M114.2 331.6h0M114.2 314.8h0M114.2 312.0h0M114.2 324.1h0M114.2 314.8h0M114.2 312.0h0M114.2 325.1h0M114.2 338.2h0M114.2 327.9h0M114.2 340.0h0M114.2 312.9h0M114.2 335.4h0M114.2 326.0h0M114.2 314.8h0M114.2 320.4h0M114.2 314.8h0M114.2 323.2h0M114.2 316.6h0M114.2 341.9h0M114.2 321.3h0M114.2 307.3h0M114.2 323.2h0M114.2 330.7h0M114.2 321.3h0M114.2 337.2h0M114.2 313.8h0M114.2 314.8h0M114.2 346.6h0M114.2 326.0h0M114.2 332.5h0M114.2 332.5h0M114.2 333.5h0M114.2 326.0h0M114.2 323.2h0M114.2 340.0h0M114.2 319.5h0M114.2 326.9h0M114.2 334.4h0M114.2 320.4h0M114.2 306.4h0M114.2 331.6h0M114.2 340.0h0M114.2 328.8h0M114.2 304.5h0M114.2 334.4h0M114.2 306.4h0M114.2 323.2h0M114.2 326.9h0M114.2 336.3h0M114.2 336.3h0M117.3 326.9h0M117.3 332.5h0M117.3 330.7h0M117.3 327.9h0M117.3 325.1h0M117.3 324.1h0M117.3 335.4h0M117.3 331.6h0M117.3 320.4h0M117.3 340.0h0M117.3 316.6h0M117.3 323.2h0M117.3 327.9h0M117.3 301.7h0M117.3 321.3h0M117.3 337.2h0M117.3 336.3h0M117.3 311.0h0M117.3 315.7h0M117.3 312.0h0M117.3 323.2h0M117.3 325.1h0M117.3 305.4h0M117.3 329.7h0M117.3 326.9h0M117.3 325.1h0M117.3 317.6h0M117.3 324.1h0M117.3 303.5h0M117.3 328.8h0M117.3 328.8h0M117.3 325.1h0M117.3 311.0h0M117.3 341.9h0M117.3 340.0h0M117.3 302.6h0M117.3 331.6h0M117.3 327.9h0M117.3 332.5h0M117.3 334.4h0M117.3 335.4h0M117.3 327.9h0M117.3 317.6h0M117.3 319.5h0M117.3 332.5h0M117.3 341.0h0M117.3 319.5h0M117.3 322.3h0M117.3 334.4h0M117.3 298.9h0M117.3 331.6h0M117.3 323.2h0M117.3 335.4h0M117.3 314.8h0M117.3 336.3h0M117.3 343.8h0M117.3 310.1h0M117.3 311.0h0M117.3 326.0h0M117.3 303.5h0M117.3 335.4h0M117.3 328.8h0M117.3 338.2h0M117.3 302.6h0M117.3 328.8h0M117.3 331.6h0M117.3 303.5h0M117.3 337.2h0M117.3 309.2h0M117.3 328.8h0M117.3 309.2h0M117.3 336.3h0M117.3 347.5h0M117.3 326.9h0M117.3 326.9h0M117.3 342.8h0M117.3 320.4h0M117.3 326.9h0M117.3 336.3h0M117.3 331.6h0M117.3 346.6h0M117.3 341.9h0M117.3 326.0h0M117.3 341.0h0M117.3 316.6h0M117.3 338.2h0M120.5 311.0h0M120.5 325.1h0M120.5 336.3h0M120.5 315.7h0M120.5 334.4h0M120.5 334.4h0M120.5 321.3h0M120.5 320.4h0M120.5 315.7h0M120.5 330.7h0M120.5 342.8h0M120.5 330.7h0M120.5 308.2h0M120.5 319.5h0M120.5 335.4h0M120.5 312.9h0M120.5 331.6h0M120.5 337.2h0M120.5 329.7h0M120.5 324.1h0M120.5 339.1h0M120.5 332.5h0M120.5 336.3h0M120.5 334.4h0M120.5 318.5h0M120.5 312.9h0M120.5 322.3h0M120.5 329.7h0M120.5 325.1h0M120.5 339.1h0M120.5 330.7h0M120.5 339.1h0M120.5 328.8h0M120.5 317.6h0M120.5 338.2h0M120.5 333.5h0M120.5 316.6h0M120.5 322.3h0M120.5 341.9h0M120.5 327.9h0M120.5 326.0h0M120.5 323.2h0M120.5 320.4h0M120.5 321.3h0M120.5 323.2h0M120.5 337.2h0M120.5 331.6h0M120.5 324.1h0M120.5 323.2h0M120.5 310.1h0M120.5 341.0h0M120.5 312.9h0M120.5 340.0h0M120.5 336.3h0M120.5 330.7h0M120.5 319.5h0M120.5 341.9h0M120.5 312.9h0M120.5 328.8h0M120.5 337.2h0M120.5 334.4h0M120.5 337.2h0M120.5 323.2h0M120.5 324.1h0M120.5 338.2h0M120.5 326.0h0M120.5 325.1h0M120.5 303.5h0M120.5 322.3h0M120.5 309.2h0M120.5 329.7h0M120.5 327.9h0M120.5 335.4h0M120.5 324.1h0M120.5 344.7h0M120.5 312.0h0M120.5 327.9h0M120.5 338.2h0M120.5 312.0h0M120.5 323.2h0M123.7 327.9h0M123.7 325.1h0M123.7 313.8h0M123.7 305.4h0M123.7 310.1h0M123.7 325.1h0M123.7 309.2h0M123.7 341.9h0M123.7 301.7h0M123.7 319.5h0M123.7 343.8h0M123.7 344.7h0M123.7 341.0h0M123.7 307.3h0M123.7 321.3h0M123.7 342.8h0M123.7 327.9h0M123.7 320.4h0M123.7 332.5h0M123.7 339.1h0M123.7 327.9h0M123.7 329.7h0M123.7 340.0h0M123.7 318.5h0M123.7 314.8h0M123.7 336.3h0M123.7 311.0h0M123.7 332.5h0M123.7 316.6h0M123.7 337.2h0M123.7 311.0h0M123.7 341.0h0M123.7 329.7h0M123.7 322.3h0M123.7 314.8h0M123.7 324.1h0M123.7 313.8h0M123.7 311.0h0M123.7 340.0h0M123.7 333.5h0M123.7 341.9h0M123.7 308.2h0M123.7 300.7h0M123.7 305.4h0M123.7 334.4h0M123.7 336.3h0M123.7 301.7h0M123.7 339.1h0M123.7 320.4h0M123.7 310.1h0M123.7 325.1h0M123.7 333.5h0M123.7 323.2h0M123.7 324.1h0M123.7 314.8h0M123.7 307.3h0M123.7 321.3h0M123.7 304.5h0M123.7 333.5h0M123.7 314.8h0M123.7 342.8h0M123.7 305.4h0M123.7 344.7h0M123.7 314.8h0M123.7 314.8h0M123.7 329.7h0M123.7 338.2h0M123.7 325.1h0M123.7 321.3h0M123.7 332.5h0M123.7 310.1h0M123.7 322.3h0M123.7 348.5h0M123.7 330.7h0M123.7 336.3h0M123.7 318.5h0M123.7 330.7h0M123.7 317.6h0M123.7 326.0h0M123.7 332.5h0M123.7 308.2h0M123.7 327.9h0M123.7 327.9h0M123.7 340.0h0M123.7 318.5h0M123.7 309.2h0M123.7 330.7h0M126.9 311.0h0M126.9 327.9h0M126.9 333.5h0M126.9 314.8h0M126.9 324.1h0M126.9 312.0h0M126.9 307.3h0M126.9 298.9h0M126.9 326.0h0M126.9 312.0h0M126.9 324.1h0M126.9 325.1h0M126.9 340.0h0M126.9 321.3h0M126.9 320.4h0M126.9 332.5h0M126.9 346.6h0M126.9 325.1h0M126.9 330.7h0M126.9 323.2h0M126.9 316.6h0M126.9 305.4h0M126.9 325.1h0M126.9 322.3h0M126.9 322.3h0M126.9 321.3h0M126.9 329.7h0M126.9 321.3h0M126.9 341.0h0M126.9 322.3h0M126.9 322.3h0M126.9 336.3h0M126.9 339.1h0M126.9 323.2h0M126.9 337.2h0M126.9 326.9h0M126.9 315.7h0M126.9 317.6h0M126.9 330.7h0M126.9 319.5h0M126.9 332.5h0M126.9 315.7h0M126.9 328.8h0M126.9 309.2h0M126.9 315.7h0M126.9 326.0h0M126.9 315.7h0M126.9 322.3h0M126.9 339.1h0M126.9 324.1h0M126.9 316.6h0M126.9 310.1h0M126.9 318.5h0M126.9 341.0h0M126.9 325.1h0M126.9 324.1h0M126.9 335.4h0M126.9 337.2h0M126.9 339.1h0M126.9 321.3h0M126.9 313.8h0M126.9 304.5h0M126.9 316.6h0M126.9 321.3h0M126.9 335.4h0M126.9 329.7h0M126.9 318.5h0M126.9 337.2h0M126.9 309.2h0M126.9 312.0h0M126.9 311.0h0M126.9 312.0h0M126.9 322.3h0M126.9 314.8h0M126.9 315.7h0M126.9 342.8h0M126.9 306.4h0M126.9 312.0h0M126.9 323.2h0M126.9 331.6h0M126.9 332.5h0M126.9 322.3h0M126.9 321.3h0M126.9 322.3h0M126.9 335.4h0M126.9 313.8h0M130.0 327.9h0M130.0 311.0h0M130.0 325.1h0M130.0 343.8h0M130.0 326.9h0M130.0 305.4h0M130.0 328.8h0M130.0 330.7h0M130.0 336.3h0M130.0 316.6h0M130.0 327.9h0M130.0 327.9h0M130.0 326.9h0M130.0 308.2h0M130.0 303.5h0M130.0 332.5h0M130.0 330.7h0M130.0 326.0h0M130.0 334.4h0M130.0 340.0h0M130.0 311.0h0M130.0 336.3h0M130.0 345.6h0M130.0 339.1h0M130.0 333.5h0M130.0 335.4h0M130.0 307.3h0M130.0 319.5h0M130.0 339.1h0M130.0 345.6h0M130.0 332.5h0M130.0 320.4h0M130.0 324.1h0M130.0 337.2h0M130.0 336.3h0M130.0 319.5h0M130.0 334.4h0M130.0 332.5h0M130.0 334.4h0M130.0 326.9h0M130.0 326.0h0M130.0 310.1h0M130.0 312.9h0M130.0 320.4h0M130.0 315.7h0M130.0 328.8h0M130.0 327.9h0M130.0 339.1h0M130.0 346.6h0M130.0 328.8h0M130.0 324.1h0M130.0 302.6h0M130.0 331.6h0M130.0 335.4h0M130.0 316.6h0M130.0 321.3h0M130.0 317.6h0M130.0 340.0h0M130.0 334.4h0M130.0 342.8h0M130.0 311.0h0M130.0 315.7h0M130.0 312.9h0M130.0 328.8h0M130.0 319.5h0M130.0 321.3h0M130.0 317.6h0M130.0 339.1h0M130.0 341.9h0M130.0 315.7h0M130.0 320.4h0M130.0 321.3h0M130.0 324.1h0M130.0 348.5h0M130.0 342.8h0M130.0 340.0h0M130.0 342.8h0M130.0 326.9h0M130.0 338.2h0M130.0 325.1h0M130.0 316.6h0M130.0 347.5h0M130.0 303.5h0M130.0 326.0h0M133.2 318.5h0M133.2 304.5h0M133.2 321.3h0M133.2 326.9h0M133.2 332.5h0M133.2 315.7h0M133.2 336.3h0M133.2 329.7h0M133.2 336.3h0M133.2 300.7h0M133.2 320.4h0M133.2 318.5h0M133.2 333.5h0M133.2 316.6h0M133.2 319.5h0M133.2 311.0h0M133.2 310.1h0M133.2 313.8h0M133.2 338.2h0M133.2 312.0h0M133.2 329.7h0M133.2 320.4h0M133.2 333.5h0M133.2 332.5h0M133.2 321.3h0M133.2 320.4h0M133.2 318.5h0M133.2 326.0h0M133.2 315.7h0M133.2 327.9h0M133.2 343.8h0M133.2 317.6h0M133.2 317.6h0M133.2 317.6h0M133.2 333.5h0M133.2 334.4h0M133.2 344.7h0M133.2 335.4h0M133.2 327.9h0M133.2 331.6h0M133.2 309.2h0M133.2 333.5h0M133.2 327.9h0M133.2 343.8h0M133.2 314.8h0M133.2 318.5h0M133.2 337.2h0M133.2 313.8h0M133.2 330.7h0M133.2 334.4h0M133.2 328.8h0M133.2 341.0h0M133.2 322.3h0M133.2 326.9h0M133.2 323.2h0M133.2 312.0h0M133.2 326.9h0M133.2 318.5h0M133.2 326.9h0M133.2 326.9h0M133.2 318.5h0M133.2 317.6h0M133.2 326.9h0M133.2 319.5h0M133.2 338.2h0M133.2 341.9h0M133.2 337.2h0M133.2 338.2h0M133.2 330.7h0M133.2 326.0h0M133.2 309.2h0M133.2 321.3h0M133.2 341.9h0M133.2 336.3h0M133.2 319.5h0M133.2 327.9h0M133.2 340.0h0M133.2 324.1h0M133.2 347.5h0M133.2 316.6h0M133.2 336.3h0M133.2 335.4h0M133.2 327.9h0M133.2 329.7h0M133.2 333.5h0M136.4 332.5h0M136.4 341.0h0M136.4 331.6h0M136.4 341.0h0M136.4 311.0h0M136.4 325.1h0M136.4 330.7h0M136.4 322.3h0M136.4 341.9h0M136.4 332.5h0M136.4 319.5h0M136.4 336.3h0M136.4 336.3h0M136.4 320.4h0M136.4 334.4h0M136.4 330.7h0M136.4 330.7h0M136.4 310.1h0M136.4 342.8h0M136.4 334.4h0M136.4 326.0h0M136.4 330.7h0M136.4 330.7h0M136.4 322.3h0M136.4 318.5h0M136.4 326.9h0M136.4 318.5h0M136.4 319.5h0M136.4 311.0h0M136.4 322.3h0M136.4 339.1h0M136.4 328.8h0M136.4 326.9h0M136.4 322.3h0M136.4 320.4h0M136.4 306.4h0M136.4 347.5h0M136.4 316.6h0M136.4 306.4h0M136.4 331.6h0M136.4 329.7h0M136.4 319.5h0M136.4 307.3h0M136.4 308.2h0M136.4 346.6h0M136.4 324.1h0M136.4 317.6h0M136.4 318.5h0M136.4 313.8h0M136.4 333.5h0M136.4 330.7h0M136.4 346.6h0M136.4 305.4h0M136.4 329.7h0M136.4 303.5h0M136.4 331.6h0M136.4 317.6h0M136.4 320.4h0M136.4 316.6h0M136.4 337.2h0M136.4 347.5h0M136.4 325.1h0M136.4 322.3h0M136.4 319.5h0M136.4 332.5h0M136.4 312.9h0M136.4 323.2h0M136.4 348.5h0M136.4 327.9h0M136.4 308.2h0M136.4 305.4h0M136.4 320.4h0M136.4 316.6h0M136.4 322.3h0M136.4 311.0h0M136.4 302.6h0M136.4 332.5h0M136.4 341.9h0M136.4 321.3h0M136.4 323.2h0M136.4 340.0h0M136.4 332.5h0M136.4 310.1h0M136.4 341.9h0M136.4 319.5h0M139.6 312.9h0M139.6 326.9h0M139.6 341.9h0M139.6 332.5h0M139.6 327.9h0M139.6 313.8h0M139.6 337.2h0M139.6 301.7h0M139.6 336.3h0M139.6 310.1h0M139.6 317.6h0M139.6 308.2h0M139.6 313.8h0M139.6 344.7h0M139.6 310.1h0M139.6 327.9h0M139.6 314.8h0M139.6 339.1h0M139.6 307.3h0M139.6 325.1h0M139.6 337.2h0M139.6 310.1h0M139.6 313.8h0M139.6 324.1h0M139.6 344.7h0M139.6 312.0h0M139.6 336.3h0M139.6 316.6h0M139.6 312.0h0M139.6 304.5h0M139.6 326.9h0M139.6 338.2h0M139.6 324.1h0M139.6 317.6h0M139.6 338.2h0M139.6 336.3h0M139.6 328.8h0M139.6 344.7h0M139.6 308.2h0M139.6 309.2h0M139.6 333.5h0M139.6 322.3h0M139.6 318.5h0M139.6 336.3h0M139.6 324.1h0M139.6 344.7h0M139.6 319.5h0M139.6 329.7h0M139.6 319.5h0M139.6 330.7h0M139.6 302.6h0M139.6 312.0h0M139.6 332.5h0M139.6 348.5h0M139.6 330.7h0M139.6 316.6h0M139.6 339.1h0M139.6 323.2h0M139.6 324.1h0M139.6 341.9h0M139.6 312.9h0M139.6 335.4h0M139.6 348.5h0M139.6 339.1h0M139.6 329.7h0M139.6 312.0h0M139.6 344.7h0M139.6 316.6h0M139.6 341.0h0M139.6 321.3h0M139.6 325.1h0M139.6 325.1h0M139.6 333.5h0M139.6 319.5h0M139.6 327.9h0M139.6 318.5h0M139.6 332.5h0M139.6 328.8h0M139.6 330.7h0M142.8 313.8h0M142.8 329.7h0M142.8 326.0h0M142.8 333.5h0M142.8 326.0h0M142.8 312.9h0M142.8 335.4h0M142.8 316.6h0M142.8 328.8h0M142.8 331.6h0M142.8 334.4h0M142.8 312.9h0M142.8 333.5h0M142.8 320.4h0M142.8 343.8h0M142.8 334.4h0M142.8 309.2h0M142.8 322.3h0M142.8 301.7h0M142.8 321.3h0M142.8 332.5h0M142.8 336.3h0M142.8 324.1h0M142.8 322.3h0M142.8 327.9h0M142.8 317.6h0M142.8 329.7h0M142.8 340.0h0M142.8 327.9h0M142.8 337.2h0M142.8 314.8h0M142.8 319.5h0M142.8 329.7h0M142.8 339.1h0M142.8 326.0h0M142.8 341.9h0M142.8 303.5h0M142.8 332.5h0M142.8 341.9h0M142.8 332.5h0M142.8 341.0h0M142.8 331.6h0M142.8 319.5h0M142.8 315.7h0M142.8 328.8h0M142.8 345.6h0M142.8 334.4h0M142.8 318.5h0M142.8 318.5h0M142.8 316.6h0M142.8 323.2h0M142.8 325.1h0M142.8 319.5h0M142.8 326.0h0M142.8 305.4h0M142.8 346.6h0M142.8 329.7h0M142.8 346.6h0M142.8 329.7h0M142.8 323.2h0M142.8 326.9h0M142.8 328.8h0M142.8 317.6h0M142.8 321.3h0M142.8 338.2h0M142.8 319.5h0M142.8 333.5h0M142.8 314.8h0M142.8 344.7h0M142.8 312.9h0M142.8 338.2h0M142.8 326.9h0M142.8 326.9h0M142.8 315.7h0M142.8 323.2h0M142.8 316.6h0M142.8 314.8h0M142.8 332.5h0M142.8 322.3h0M142.8 339.1h0M142.8 326.0h0M142.8 316.6h0M142.8 343.8h0M142.8 334.4h0M145.9 341.0h0M145.9 327.9h0M145.9 327.9h0M145.9 315.7h0M145.9 323.2h0M145.9 331.6h0M145.9 345.6h0M145.9 337.2h0M145.9 338.2h0M145.9 323.2h0M145.9 341.0h0M145.9 341.9h0M145.9 326.0h0M145.9 320.4h0M145.9 326.0h0M145.9 325.1h0M145.9 315.7h0M145.9 320.4h0M145.9 319.5h0M145.9 302.6h0M145.9 342.8h0M145.9 326.9h0M145.9 326.0h0M145.9 331.6h0M145.9 306.4h0M145.9 340.0h0M145.9 312.0h0M145.9 333.5h0M145.9 338.2h0M145.9 336.3h0M145.9 315.7h0M145.9 315.7h0M145.9 336.3h0M145.9 341.9h0M145.9 345.6h0M145.9 326.0h0M145.9 325.1h0M145.9 318.5h0M145.9 336.3h0M145.9 322.3h0M145.9 307.3h0M145.9 312.0h0M145.9 332.5h0M145.9 328.8h0M145.9 332.5h0M145.9 321.3h0M145.9 319.5h0M145.9 329.7h0M145.9 324.1h0M145.9 305.4h0M145.9 320.4h0M145.9 316.6h0M145.9 333.5h0M145.9 325.1h0M145.9 335.4h0M145.9 314.8h0M145.9 309.2h0M145.9 331.6h0M145.9 316.6h0M145.9 326.0h0M145.9 322.3h0M145.9 339.1h0M145.9 329.7h0M145.9 327.9h0M145.9 313.8h0M145.9 305.4h0M145.9 314.8h0M145.9 337.2h0M145.9 335.4h0M145.9 333.5h0M145.9 321.3h0M145.9 312.9h0M145.9 341.0h0M145.9 328.8h0M145.9 333.5h0M145.9 313.8h0M145.9 317.6h0M145.9 334.4h0M145.9 335.4h0M145.9 312.9h0M145.9 329.7h0M145.9 311.0h0M145.9 341.9h0M149.1 334.4h0M149.1 345.6h0M149.1 317.6h0M149.1 328.8h0M149.1 319.5h0M149.1 327.9h0M149.1 336.3h0M149.1 326.0h0M149.1 326.9h0M149.1 308.2h0M149.1 333.5h0M149.1 326.0h0M149.1 334.4h0M149.1 339.1h0M149.1 326.0h0M149.1 335.4h0M149.1 318.5h0M149.1 338.2h0M149.1 326.0h0M149.1 318.5h0M149.1 323.2h0M149.1 307.3h0M149.1 317.6h0M149.1 320.4h0M149.1 326.0h0M149.1 325.1h0M149.1 317.6h0M149.1 323.2h0M149.1 326.9h0M149.1 333.5h0M149.1 336.3h0M149.1 340.0h0M149.1 323.2h0M149.1 325.1h0M149.1 319.5h0M149.1 319.5h0M149.1 327.9h0M149.1 342.8h0M149.1 303.5h0M149.1 319.5h0M149.1 329.7h0M149.1 312.9h0M149.1 331.6h0M149.1 308.2h0M149.1 321.3h0M149.1 304.5h0M149.1 329.7h0M149.1 315.7h0M149.1 334.4h0M149.1 322.3h0M149.1 312.9h0M149.1 320.4h0M149.1 326.9h0M149.1 325.1h0M149.1 322.3h0M149.1 321.3h0M149.1 326.0h0M149.1 336.3h0M149.1 318.5h0M149.1 331.6h0M149.1 308.2h0M149.1 337.2h0M149.1 330.7h0M149.1 321.3h0M149.1 321.3h0M149.1 303.5h0M149.1 326.9h0M149.1 322.3h0M149.1 307.3h0M149.1 319.5h0M149.1 332.5h0M149.1 327.9h0M149.1 328.8h0M149.1 318.5h0M149.1 336.3h0M149.1 325.1h0M149.1 336.3h0M149.1 319.5h0M149.1 326.0h0M149.1 316.6h0M149.1 339.1h0M149.1 321.3h0M149.1 347.5h0M149.1 335.4h0M149.1 331.6h0M149.1 325.1h0M152.3 336.3h0M152.3 332.5h0M152.3 344.7h0M152.3 331.6h0M152.3 339.1h0M152.3 331.6h0M152.3 330.7h0M152.3 306.4h0M152.3 326.0h0M152.3 330.7h0M152.3 311.0h0M152.3 308.2h0M152.3 322.3h0M152.3 329.7h0M152.3 304.5h0M152.3 329.7h0M152.3 338.2h0M152.3 323.2h0M152.3 328.8h0M152.3 331.6h0M152.3 317.6h0M152.3 334.4h0M152.3 331.6h0M152.3 310.1h0M152.3 332.5h0M152.3 337.2h0M152.3 312.0h0M152.3 337.2h0M152.3 322.3h0M152.3 309.2h0M152.3 312.9h0M152.3 314.8h0M152.3 332.5h0M152.3 319.5h0M152.3 321.3h0M152.3 310.1h0M152.3 326.0h0M152.3 310.1h0M152.3 317.6h0M152.3 333.5h0M152.3 334.4h0M152.3 319.5h0M152.3 325.1h0M152.3 332.5h0M152.3 326.0h0M152.3 341.9h0M152.3 342.8h0M152.3 325.1h0M152.3 310.1h0M152.3 324.1h0M152.3 343.8h0M152.3 341.0h0M152.3 341.0h0M152.3 340.0h0M152.3 319.5h0M152.3 329.7h0M152.3 340.0h0M152.3 329.7h0M152.3 337.2h0M152.3 312.9h0M152.3 310.1h0M152.3 336.3h0M152.3 334.4h0M152.3 344.7h0M152.3 331.6h0M152.3 340.0h0M152.3 301.7h0M152.3 302.6h0M152.3 324.1h0M152.3 338.2h0M152.3 329.7h0M152.3 340.0h0M152.3 345.6h0M152.3 332.5h0M152.3 326.0h0M152.3 327.9h0M152.3 330.7h0M152.3 301.7h0M152.3 315.7h0M152.3 335.4h0M152.3 331.6h0M152.3 332.5h0M155.5 336.3h0M155.5 328.8h0M155.5 335.4h0M155.5 333.5h0M155.5 303.5h0M155.5 323.2h0M155.5 322.3h0M155.5 310.1h0M155.5 325.1h0M155.5 315.7h0M155.5 325.1h0M155.5 314.8h0M155.5 339.1h0M155.5 318.5h0M155.5 326.0h0M155.5 326.9h0M155.5 331.6h0M155.5 323.2h0M155.5 330.7h0M155.5 324.1h0M155.5 312.0h0M155.5 323.2h0M155.5 319.5h0M155.5 328.8h0M155.5 321.3h0M155.5 322.3h0M155.5 326.9h0M155.5 328.8h0M155.5 326.0h0M155.5 341.0h0M155.5 328.8h0M155.5 315.7h0M155.5 326.9h0M155.5 345.6h0M155.5 312.0h0M155.5 333.5h0M155.5 341.9h0M155.5 326.9h0M155.5 318.5h0M155.5 317.6h0M155.5 323.2h0M155.5 312.9h0M155.5 315.7h0M155.5 312.9h0M155.5 312.9h0M155.5 328.8h0M155.5 302.6h0M155.5 327.9h0M155.5 334.4h0M155.5 313.8h0M155.5 313.8h0M155.5 326.0h0M155.5 325.1h0M155.5 338.2h0M155.5 325.1h0M155.5 343.8h0M155.5 326.9h0M155.5 318.5h0M155.5 345.6h0M155.5 332.5h0M155.5 326.0h0M155.5 322.3h0M155.5 323.2h0M155.5 313.8h0M155.5 323.2h0M155.5 338.2h0M155.5 341.9h0M155.5 320.4h0M155.5 332.5h0M155.5 331.6h0M155.5 335.4h0M155.5 310.1h0M155.5 311.0h0M155.5 336.3h0M155.5 347.5h0M155.5 311.0h0M155.5 313.8h0M155.5 313.8h0M155.5 318.5h0M155.5 320.4h0M155.5 314.8h0M155.5 304.5h0M158.6 319.5h0M158.6 315.7h0M158.6 337.2h0M158.6 321.3h0M158.6 340.0h0M158.6 336.3h0M158.6 338.2h0M158.6 320.4h0M158.6 334.4h0M158.6 305.4h0M158.6 308.2h0M158.6 326.9h0M158.6 321.3h0M158.6 342.8h0M158.6 322.3h0M158.6 302.6h0M158.6 326.9h0M158.6 322.3h0M158.6 327.9h0M158.6 310.1h0M158.6 315.7h0M158.6 326.9h0M158.6 335.4h0M158.6 330.7h0M158.6 335.4h0M158.6 307.3h0M158.6 323.2h0M158.6 328.8h0M158.6 338.2h0M158.6 329.7h0M158.6 322.3h0M158.6 324.1h0M158.6 325.1h0M158.6 307.3h0M158.6 326.0h0M158.6 336.3h0M158.6 335.4h0M158.6 301.7h0M158.6 326.0h0M158.6 306.4h0M158.6 340.0h0M158.6 332.5h0M158.6 335.4h0M158.6 317.6h0M158.6 312.0h0M158.6 321.3h0M158.6 306.4h0M158.6 312.9h0M158.6 309.2h0M158.6 333.5h0M158.6 301.7h0M158.6 328.8h0M158.6 337.2h0M158.6 331.6h0M158.6 341.9h0M158.6 308.2h0M158.6 329.7h0M158.6 332.5h0M158.6 331.6h0M158.6 346.6h0M158.6 329.7h0M158.6 341.9h0M158.6 341.0h0M158.6 327.9h0M158.6 333.5h0M158.6 316.6h0M158.6 330.7h0M158.6 328.8h0M158.6 324.1h0M158.6 320.4h0M158.6 339.1h0M158.6 325.1h0M158.6 343.8h0M158.6 336.3h0M158.6 318.5h0M158.6 338.2h0M158.6 328.8h0M158.6 327.9h0M158.6 312.0h0M158.6 334.4h0M158.6 329.7h0M158.6 320.4h0M158.6 317.6h0M158.6 323.2h0M158.6 309.2h0M161.8 319.5h0M161.8 344.7h0M161.8 318.5h0M161.8 309.2h0M161.8 341.0h0M161.8 341.0h0M161.8 341.9h0M161.8 334.4h0M161.8 306.4h0M161.8 341.9h0M161.8 341.0h0M161.8 326.9h0M161.8 341.0h0M161.8 314.8h0M161.8 323.2h0M161.8 342.8h0M161.8 343.8h0M161.8 331.6h0M161.8 319.5h0M161.8 341.9h0M161.8 325.1h0M161.8 313.8h0M161.8 330.7h0M161.8 309.2h0M161.8 333.5h0M161.8 322.3h0M161.8 331.6h0M161.8 304.5h0M161.8 326.0h0M161.8 318.5h0M161.8 305.4h0M161.8 318.5h0M161.8 330.7h0M161.8 307.3h0M161.8 324.1h0M161.8 307.3h0M161.8 328.8h0M161.8 303.5h0M161.8 335.4h0M161.8 335.4h0M161.8 337.2h0M161.8 328.8h0M161.8 327.9h0M161.8 334.4h0M161.8 320.4h0M161.8 301.7h0M161.8 310.1h0M161.8 310.1h0M161.8 328.8h0M161.8 317.6h0M161.8 321.3h0M161.8 333.5h0M161.8 328.8h0M161.8 325.1h0M161.8 313.8h0M161.8 342.8h0M161.8 320.4h0M161.8 325.1h0M161.8 339.1h0M161.8 328.8h0M161.8 335.4h0M161.8 318.5h0M161.8 322.3h0M161.8 334.4h0M161.8 319.5h0M161.8 321.3h0M161.8 326.0h0M161.8 347.5h0M161.8 345.6h0M161.8 329.7h0M161.8 327.9h0M161.8 317.6h0M161.8 343.8h0M161.8 331.6h0M161.8 339.1h0M161.8 308.2h0M161.8 337.2h0M161.8 328.8h0M161.8 336.3h0M161.8 340.0h0M161.8 326.9h0M161.8 322.3h0M161.8 336.3h0M161.8 311.0h0M165.0 345.6h0M165.0 331.6h0M165.0 312.9h0M165.0 343.8h0M165.0 340.0h0M165.0 347.5h0M165.0 340.0h0M165.0 333.5h0M165.0 326.9h0M165.0 313.8h0M165.0 337.2h0M165.0 335.4h0M165.0 322.3h0M165.0 335.4h0M165.0 315.7h0M165.0 341.0h0M165.0 329.7h0M165.0 330.7h0M165.0 317.6h0M165.0 340.0h0M165.0 329.7h0M165.0 320.4h0M165.0 332.5h0M165.0 325.1h0M165.0 341.0h0M165.0 307.3h0M165.0 312.9h0M165.0 321.3h0M165.0 333.5h0M165.0 322.3h0M165.0 329.7h0M165.0 301.7h0M165.0 334.4h0M165.0 327.9h0M165.0 327.9h0M165.0 316.6h0M165.0 314.8h0M165.0 344.7h0M165.0 333.5h0M165.0 312.0h0M165.0 326.9h0M165.0 310.1h0M165.0 331.6h0M165.0 303.5h0M165.0 339.1h0M165.0 335.4h0M165.0 331.6h0M165.0 329.7h0M165.0 319.5h0M165.0 324.1h0M165.0 343.8h0M165.0 333.5h0M165.0 335.4h0M165.0 309.2h0M165.0 321.3h0M165.0 308.2h0M165.0 310.1h0M165.0 334.4h0M165.0 345.6h0M165.0 326.0h0M165.0 337.2h0M165.0 321.3h0M165.0 343.8h0M165.0 328.8h0M165.0 340.0h0M165.0 304.5h0M165.0 343.8h0M165.0 311.0h0M165.0 331.6h0M165.0 327.9h0M165.0 324.1h0M165.0 336.3h0M165.0 315.7h0M165.0 314.8h0M165.0 339.1h0M165.0 307.3h0M165.0 310.1h0M165.0 310.1h0M165.0 332.5h0M165.0 341.0h0M165.0 326.0h0M168.2 312.9h0M168.2 337.2h0M168.2 314.8h0M168.2 312.9h0M168.2 334.4h0M168.2 317.6h0M168.2 331.6h0M168.2 323.2h0M168.2 313.8h0M168.2 333.5h0M168.2 305.4h0M168.2 330.7h0M168.2 324.1h0M168.2 316.6h0M168.2 338.2h0M168.2 326.9h0M168.2 322.3h0M168.2 324.1h0M168.2 323.2h0M168.2 339.1h0M168.2 322.3h0M168.2 312.9h0M168.2 310.1h0M168.2 323.2h0M168.2 308.2h0M168.2 315.7h0M168.2 343.8h0M168.2 309.2h0M168.2 337.2h0M168.2 325.1h0M168.2 343.8h0M168.2 338.2h0M168.2 326.9h0M168.2 341.0h0M168.2 329.7h0M168.2 312.0h0M168.2 333.5h0M168.2 333.5h0M168.2 325.1h0M168.2 329.7h0M168.2 321.3h0M168.2 330.7h0M168.2 323.2h0M168.2 306.4h0M168.2 323.2h0M168.2 347.5h0M168.2 337.2h0M168.2 346.6h0M168.2 326.9h0M168.2 321.3h0M168.2 312.9h0M168.2 328.8h0M168.2 340.0h0M168.2 337.2h0M168.2 336.3h0M168.2 320.4h0M168.2 327.9h0M168.2 316.6h0M168.2 337.2h0M168.2 334.4h0M168.2 318.5h0M168.2 328.8h0M168.2 336.3h0M168.2 315.7h0M168.2 322.3h0M168.2 334.4h0M168.2 335.4h0M168.2 317.6h0M168.2 347.5h0M168.2 345.6h0M168.2 343.8h0M168.2 327.9h0M168.2 344.7h0M168.2 315.7h0M168.2 312.0h0M168.2 328.8h0M168.2 329.7h0M168.2 315.7h0M168.2 307.3h0M168.2 321.3h0M168.2 336.3h0M171.3 331.6h0M171.3 328.8h0M171.3 334.4h0M171.3 330.7h0M171.3 327.9h0M171.3 325.1h0M171.3 305.4h0M171.3 339.1h0M171.3 321.3h0M171.3 331.6h0M171.3 332.5h0M171.3 340.0h0M171.3 316.6h0M171.3 337.2h0M171.3 337.2h0M171.3 325.1h0M171.3 326.0h0M171.3 328.8h0M171.3 312.9h0M171.3 320.4h0M171.3 312.0h0M171.3 341.9h0M171.3 316.6h0M171.3 312.9h0M171.3 328.8h0M171.3 333.5h0M171.3 321.3h0M171.3 313.8h0M171.3 331.6h0M171.3 337.2h0M171.3 305.4h0M171.3 338.2h0M171.3 303.5h0M171.3 335.4h0M171.3 320.4h0M171.3 323.2h0M171.3 335.4h0M171.3 344.7h0M171.3 343.8h0M171.3 335.4h0M171.3 309.2h0M171.3 321.3h0M171.3 327.9h0M171.3 318.5h0M171.3 334.4h0M171.3 323.2h0M171.3 324.1h0M171.3 310.1h0M171.3 319.5h0M171.3 316.6h0M171.3 335.4h0M171.3 344.7h0M171.3 340.0h0M171.3 340.0h0M171.3 317.6h0M171.3 312.0h0M171.3 315.7h0M171.3 326.9h0M171.3 322.3h0M171.3 329.7h0M171.3 340.0h0M171.3 327.9h0M171.3 316.6h0M171.3 334.4h0M171.3 326.0h0M171.3 340.0h0M171.3 326.0h0M171.3 319.5h0M171.3 325.1h0M171.3 314.8h0M171.3 312.0h0M171.3 337.2h0M171.3 318.5h0M171.3 341.9h0M171.3 321.3h0M171.3 338.2h0M171.3 325.1h0M171.3 301.7h0M171.3 325.1h0M171.3 345.6h0M171.3 311.0h0M171.3 324.1h0M171.3 324.1h0M171.3 307.3h0M171.3 330.7h0M171.3 324.1h0M174.5 333.5h0M174.5 326.9h0M174.5 308.2h0M174.5 327.9h0M174.5 334.4h0M174.5 323.2h0M174.5 333.5h0M174.5 333.5h0M174.5 334.4h0M174.5 309.2h0M174.5 324.1h0M174.5 312.9h0M174.5 315.7h0M174.5 340.0h0M174.5 312.0h0M174.5 341.0h0M174.5 343.8h0M174.5 311.0h0M174.5 305.4h0M174.5 326.0h0M174.5 323.2h0M174.5 318.5h0M174.5 324.1h0M174.5 335.4h0M174.5 341.0h0M174.5 325.1h0M174.5 324.1h0M174.5 332.5h0M174.5 326.0h0M174.5 320.4h0M174.5 302.6h0M174.5 326.9h0M174.5 317.6h0M174.5 322.3h0M174.5 321.3h0M174.5 313.8h0M174.5 332.5h0M174.5 339.1h0M174.5 332.5h0M174.5 316.6h0M174.5 327.9h0M174.5 334.4h0M174.5 324.1h0M174.5 334.4h0M174.5 307.3h0M174.5 323.2h0M174.5 344.7h0M174.5 338.2h0M174.5 324.1h0M174.5 326.9h0M174.5 340.0h0M174.5 316.6h0M174.5 329.7h0M174.5 319.5h0M174.5 318.5h0M174.5 310.1h0M174.5 335.4h0M174.5 337.2h0M174.5 309.2h0M174.5 332.5h0M174.5 307.3h0M174.5 328.8h0M174.5 340.0h0M174.5 345.6h0M174.5 327.9h0M174.5 329.7h0M174.5 326.0h0M174.5 324.1h0M174.5 346.6h0M174.5 313.8h0M174.5 305.4h0M174.5 305.4h0M174.5 338.2h0M174.5 336.3h0M174.5 320.4h0M174.5 313.8h0M174.5 327.9h0M174.5 321.3h0M174.5 336.3h0M174.5 317.6h0M174.5 341.0h0M174.5 317.6h0M177.7 347.5h0M177.7 337.2h0M177.7 341.0h0M177.7 321.3h0M177.7 323.2h0M177.7 325.1h0M177.7 341.9h0M177.7 317.6h0M177.7 315.7h0M177.7 323.2h0M177.7 330.7h0M177.7 325.1h0M177.7 325.1h0M177.7 309.2h0M177.7 317.6h0M177.7 312.0h0M177.7 340.0h0M177.7 325.1h0M177.7 334.4h0M177.7 309.2h0M177.7 325.1h0M177.7 330.7h0M177.7 312.0h0M177.7 317.6h0M177.7 319.5h0M177.7 327.9h0M177.7 329.7h0M177.7 307.3h0M177.7 330.7h0M177.7 328.8h0M177.7 329.7h0M177.7 314.8h0M177.7 325.1h0M177.7 342.8h0M177.7 341.0h0M177.7 317.6h0M177.7 346.6h0M177.7 320.4h0M177.7 313.8h0M177.7 341.0h0M177.7 329.7h0M177.7 323.2h0M177.7 327.9h0M177.7 335.4h0M177.7 329.7h0M177.7 320.4h0M177.7 326.0h0M177.7 326.0h0M177.7 326.0h0M177.7 326.0h0M177.7 306.4h0M177.7 337.2h0M177.7 317.6h0M177.7 323.2h0M177.7 315.7h0M177.7 323.2h0M177.7 339.1h0M177.7 342.8h0M177.7 329.7h0M177.7 327.9h0M177.7 319.5h0M177.7 322.3h0M177.7 328.8h0M177.7 324.1h0M177.7 312.9h0M177.7 326.9h0M177.7 312.0h0M177.7 329.7h0M177.7 318.5h0M177.7 331.6h0M177.7 316.6h0M177.7 322.3h0M177.7 346.6h0M177.7 342.8h0M177.7 311.0h0M177.7 311.0h0M177.7 319.5h0M177.7 326.9h0M177.7 329.7h0M177.7 319.5h0M177.7 342.8h0M177.7 338.2h0M177.7 303.5h0M177.7 314.8h0M177.7 302.6h0M177.7 311.0h0M177.7 315.7h0M180.9 308.2h0M180.9 317.6h0M180.9 335.4h0M180.9 341.0h0M180.9 327.9h0M180.9 335.4h0M180.9 308.2h0M180.9 344.7h0M180.9 324.1h0M180.9 333.5h0M180.9 330.7h0M180.9 339.1h0M180.9 332.5h0M180.9 304.5h0M180.9 320.4h0M180.9 341.0h0M180.9 333.5h0M180.9 308.2h0M180.9 318.5h0M180.9 316.6h0M180.9 327.9h0M180.9 316.6h0M180.9 326.9h0M180.9 324.1h0M180.9 306.4h0M180.9 331.6h0M180.9 329.7h0M180.9 316.6h0M180.9 335.4h0M180.9 305.4h0M180.9 328.8h0M180.9 337.2h0M180.9 326.0h0M180.9 318.5h0M180.9 319.5h0M180.9 324.1h0M180.9 317.6h0M180.9 341.9h0M180.9 313.8h0M180.9 320.4h0M180.9 329.7h0M180.9 330.7h0M180.9 339.1h0M180.9 324.1h0M180.9 316.6h0M180.9 325.1h0M180.9 314.8h0M180.9 318.5h0M180.9 319.5h0M180.9 329.7h0M180.9 337.2h0M180.9 312.0h0M180.9 318.5h0M180.9 326.0h0M180.9 326.0h0M180.9 322.3h0M180.9 333.5h0M180.9 323.2h0M180.9 303.5h0M180.9 342.8h0M180.9 310.1h0M180.9 329.7h0M180.9 329.7h0M180.9 307.3h0M180.9 329.7h0M180.9 323.2h0M180.9 314.8h0M180.9 333.5h0M180.9 335.4h0M180.9 341.0h0M180.9 310.1h0M180.9 315.7h0M180.9 343.8h0M180.9 332.5h0M180.9 336.3h0M180.9 319.5h0M180.9 330.7h0M180.9 336.3h0M180.9 310.1h0M180.9 317.6h0M180.9 329.7h0M180.9 343.8h0M180.9 320.4h0M180.9 334.4h0M184.1 315.7h0M184.1 311.0h0M184.1 334.4h0M184.1 312.9h0M184.1 326.9h0M184.1 319.5h0M184.1 332.5h0M184.1 310.1h0M184.1 308.2h0M184.1 308.2h0M184.1 323.2h0M184.1 342.8h0M184.1 337.2h0M184.1 328.8h0M184.1 324.1h0M184.1 341.9h0M184.1 325.1h0M184.1 339.1h0M184.1 343.8h0M184.1 334.4h0M184.1 331.6h0M184.1 330.7h0M184.1 325.1h0M184.1 329.7h0M184.1 314.8h0M184.1 315.7h0M184.1 345.6h0M184.1 324.1h0M184.1 304.5h0M184.1 343.8h0M184.1 343.8h0M184.1 331.6h0M184.1 310.1h0M184.1 340.0h0M184.1 341.9h0M184.1 323.2h0M184.1 331.6h0M184.1 322.3h0M184.1 323.2h0M184.1 311.0h0M184.1 315.7h0M184.1 319.5h0M184.1 326.0h0M184.1 338.2h0M184.1 333.5h0M184.1 302.6h0M184.1 339.1h0M184.1 306.4h0M184.1 332.5h0M184.1 323.2h0M184.1 326.9h0M184.1 319.5h0M184.1 312.0h0M184.1 346.6h0M184.1 314.8h0M184.1 342.8h0M184.1 326.0h0M184.1 326.0h0M184.1 314.8h0M184.1 311.0h0M184.1 333.5h0M184.1 323.2h0M184.1 329.7h0M184.1 335.4h0M184.1 303.5h0M184.1 312.0h0M184.1 316.6h0M184.1 328.8h0M184.1 334.4h0M184.1 312.0h0M184.1 323.2h0M184.1 324.1h0M184.1 324.1h0M184.1 345.6h0M184.1 315.7h0M184.1 327.9h0M184.1 324.1h0M184.1 326.9h0M184.1 334.4h0M184.1 319.5h0M184.1 318.5h0M184.1 310.1h0M184.1 319.5h0M184.1 303.5h0M184.1 303.5h0M184.1 326.9h0M187.2 313.8h0M187.2 341.9h0M187.2 306.4h0M187.2 346.6h0M187.2 320.4h0M187.2 304.5h0M187.2 313.8h0M187.2 317.6h0M187.2 330.7h0M187.2 309.2h0M187.2 336.3h0M187.2 323.2h0M187.2 318.5h0M187.2 315.7h0M187.2 335.4h0M187.2 344.7h0M187.2 313.8h0M187.2 333.5h0M187.2 319.5h0M187.2 343.8h0M187.2 344.7h0M187.2 332.5h0M187.2 327.9h0M187.2 310.1h0M187.2 345.6h0M187.2 335.4h0M187.2 345.6h0M187.2 326.0h0M187.2 312.0h0M187.2 338.2h0M187.2 313.8h0M187.2 319.5h0M187.2 336.3h0M187.2 305.4h0M187.2 326.0h0M187.2 322.3h0M187.2 311.0h0M187.2 310.1h0M187.2 323.2h0M187.2 322.3h0M187.2 327.9h0M187.2 306.4h0M187.2 326.9h0M187.2 309.2h0M187.2 315.7h0M187.2 338.2h0M187.2 317.6h0M187.2 319.5h0M187.2 315.7h0M187.2 326.0h0M187.2 337.2h0M187.2 321.3h0M187.2 334.4h0M187.2 309.2h0M187.2 331.6h0M187.2 324.1h0M187.2 326.9h0M187.2 313.8h0M187.2 317.6h0M187.2 329.7h0M187.2 311.0h0M187.2 336.3h0M187.2 320.4h0M187.2 331.6h0M187.2 311.0h0M187.2 304.5h0M187.2 334.4h0M187.2 335.4h0M187.2 325.1h0M187.2 334.4h0M187.2 326.0h0M187.2 334.4h0M187.2 327.9h0M187.2 313.8h0M187.2 340.0h0M187.2 313.8h0M187.2 324.1h0M187.2 313.8h0M187.2 323.2h0M187.2 326.9h0M187.2 327.9h0M187.2 333.5h0M187.2 318.5h0M187.2 314.8h0M190.4 331.6h0M190.4 341.0h0M190.4 327.9h0M190.4 341.0h0M190.4 308.2h0M190.4 316.6h0M190.4 325.1h0M190.4 319.5h0M190.4 338.2h0M190.4 327.9h0M190.4 321.3h0M190.4 304.5h0M190.4 322.3h0M190.4 318.5h0M190.4 325.1h0M190.4 342.8h0M190.4 338.2h0M190.4 318.5h0M190.4 326.0h0M190.4 310.1h0M190.4 338.2h0M190.4 323.2h0M190.4 336.3h0M190.4 336.3h0M190.4 333.5h0M190.4 307.3h0M190.4 335.4h0M190.4 305.4h0M190.4 330.7h0M190.4 334.4h0M190.4 311.0h0M190.4 318.5h0M190.4 324.1h0M190.4 329.7h0M190.4 329.7h0M190.4 326.9h0M190.4 314.8h0M190.4 329.7h0M190.4 318.5h0M190.4 346.6h0M190.4 311.0h0M190.4 317.6h0M190.4 343.8h0M190.4 337.2h0M190.4 334.4h0M190.4 318.5h0M190.4 326.9h0M190.4 320.4h0M190.4 340.0h0M190.4 334.4h0M190.4 342.8h0M190.4 317.6h0M190.4 323.2h0M190.4 320.4h0M190.4 321.3h0M190.4 324.1h0M190.4 342.8h0M190.4 327.9h0M190.4 341.9h0M190.4 328.8h0M190.4 302.6h0M190.4 308.2h0M190.4 324.1h0M190.4 341.0h0M190.4 326.0h0M190.4 306.4h0M190.4 327.9h0M190.4 323.2h0M190.4 333.5h0M190.4 337.2h0M190.4 329.7h0M190.4 317.6h0M190.4 312.9h0M190.4 321.3h0M190.4 325.1h0M190.4 330.7h0M190.4 320.4h0M190.4 317.6h0M190.4 332.5h0M190.4 336.3h0M190.4 329.7h0M190.4 312.9h0M193.6 322.3h0M193.6 312.0h0M193.6 321.3h0M193.6 338.2h0M193.6 313.8h0M193.6 322.3h0M193.6 342.8h0M193.6 339.1h0M193.6 302.6h0M193.6 333.5h0M193.6 322.3h0M193.6 308.2h0M193.6 340.0h0M193.6 319.5h0M193.6 325.1h0M193.6 314.8h0M193.6 336.3h0M193.6 338.2h0M193.6 336.3h0M193.6 334.4h0M193.6 322.3h0M193.6 333.5h0M193.6 331.6h0M193.6 336.3h0M193.6 338.2h0M193.6 339.1h0M193.6 319.5h0M193.6 338.2h0M193.6 341.0h0M193.6 325.1h0M193.6 307.3h0M193.6 330.7h0M193.6 336.3h0M193.6 324.1h0M193.6 312.0h0M193.6 340.0h0M193.6 319.5h0M193.6 322.3h0M193.6 334.4h0M193.6 325.1h0M193.6 334.4h0M193.6 336.3h0M193.6 320.4h0M193.6 322.3h0M193.6 321.3h0M193.6 327.9h0M193.6 343.8h0M193.6 315.7h0M193.6 336.3h0M193.6 324.1h0M193.6 319.5h0M193.6 309.2h0M193.6 318.5h0M193.6 314.8h0M193.6 334.4h0M193.6 335.4h0M193.6 338.2h0M193.6 317.6h0M193.6 337.2h0M193.6 317.6h0M193.6 316.6h0M193.6 331.6h0M193.6 320.4h0M193.6 336.3h0M193.6 330.7h0M193.6 325.1h0M193.6 321.3h0M193.6 330.7h0M193.6 331.6h0M193.6 329.7h0M193.6 342.8h0M193.6 321.3h0M193.6 311.0h0M193.6 311.0h0M193.6 315.7h0M193.6 316.6h0M193.6 326.9h0M193.6 315.7h0M193.6 317.6h0M193.6 321.3h0M196.8 315.7h0M196.8 318.5h0M196.8 337.2h0M196.8 344.7h0M196.8 319.5h0M196.8 327.9h0M196.8 340.0h0M196.8 332.5h0M196.8 326.0h0M196.8 332.5h0M196.8 326.9h0M196.8 319.5h0M196.8 334.4h0M196.8 320.4h0M196.8 322.3h0M196.8 332.5h0M196.8 313.8h0M196.8 337.2h0M196.8 318.5h0M196.8 315.7h0M196.8 335.4h0M196.8 336.3h0M196.8 340.0h0M196.8 345.6h0M196.8 315.7h0M196.8 325.1h0M196.8 313.8h0M196.8 318.5h0M196.8 339.1h0M196.8 331.6h0M196.8 331.6h0M196.8 333.5h0M196.8 322.3h0M196.8 343.8h0M196.8 314.8h0M196.8 336.3h0M196.8 320.4h0M196.8 315.7h0M196.8 323.2h0M196.8 336.3h0M196.8 317.6h0M196.8 318.5h0M196.8 342.8h0M196.8 332.5h0M196.8 328.8h0M196.8 333.5h0M196.8 335.4h0M196.8 338.2h0M196.8 333.5h0M196.8 336.3h0M196.8 331.6h0M196.8 328.8h0M196.8 341.9h0M196.8 338.2h0M196.8 327.9h0M196.8 329.7h0M196.8 324.1h0M196.8 318.5h0M196.8 334.4h0M196.8 312.0h0M196.8 314.8h0M196.8 314.8h0M196.8 326.9h0M196.8 326.0h0M196.8 309.2h0M196.8 327.9h0M196.8 337.2h0M196.8 312.9h0M196.8 326.9h0M196.8 328.8h0M196.8 334.4h0M196.8 339.1h0M196.8 326.0h0M196.8 326.9h0M196.8 318.5h0M196.8 338.2h0M196.8 326.0h0M196.8 331.6h0M196.8 335.4h0M196.8 324.1h0M196.8 324.1h0M196.8 327.9h0M196.8 327.9h0M196.8 326.9h0M196.8 324.1h0M196.8 325.1h0M199.9 341.0h0M199.9 318.5h0M199.9 326.9h0M199.9 326.0h0M199.9 340.0h0M199.9 319.5h0M199.9 323.2h0M199.9 319.5h0M199.9 336.3h0M199.9 334.4h0M199.9 331.6h0M199.9 327.9h0M199.9 329.7h0M199.9 308.2h0M199.9 308.2h0M199.9 320.4h0M199.9 307.3h0M199.9 326.0h0M199.9 308.2h0M199.9 325.1h0M199.9 317.6h0M199.9 332.5h0M199.9 327.9h0M199.9 313.8h0M199.9 312.0h0M199.9 319.5h0M199.9 308.2h0M199.9 338.2h0M199.9 338.2h0M199.9 325.1h0M199.9 335.4h0M199.9 314.8h0M199.9 331.6h0M199.9 337.2h0M199.9 326.0h0M199.9 311.0h0M199.9 323.2h0M199.9 317.6h0M199.9 332.5h0M199.9 303.5h0M199.9 332.5h0M199.9 326.9h0M199.9 306.4h0M199.9 312.9h0M199.9 332.5h0M199.9 341.9h0M199.9 336.3h0M199.9 327.9h0M199.9 311.0h0M199.9 326.0h0M199.9 316.6h0M199.9 339.1h0M199.9 312.9h0M199.9 313.8h0M199.9 317.6h0M199.9 314.8h0M199.9 336.3h0M199.9 312.0h0M199.9 317.6h0M199.9 335.4h0M199.9 328.8h0M199.9 340.0h0M199.9 307.3h0M199.9 324.1h0M199.9 344.7h0M199.9 302.6h0M199.9 339.1h0M199.9 314.8h0M199.9 329.7h0M199.9 312.0h0M199.9 333.5h0M199.9 335.4h0M199.9 324.1h0M199.9 346.6h0M199.9 312.9h0M199.9 338.2h0M199.9 311.0h0M199.9 338.2h0M199.9 336.3h0M199.9 316.6h0M203.1 346.6h0M203.1 326.0h0M203.1 309.2h0M203.1 322.3h0M203.1 338.2h0M203.1 326.9h0M203.1 338.2h0M203.1 344.7h0M203.1 337.2h0M203.1 333.5h0M203.1 328.8h0M203.1 332.5h0M203.1 345.6h0M203.1 318.5h0M203.1 324.1h0M203.1 337.2h0M203.1 313.8h0M203.1 339.1h0M203.1 326.9h0M203.1 332.5h0M203.1 318.5h0M203.1 324.1h0M203.1 341.9h0M203.1 312.9h0M203.1 340.0h0M203.1 341.0h0M203.1 327.9h0M203.1 312.9h0M203.1 331.6h0M203.1 340.0h0M203.1 309.2h0M203.1 331.6h0M203.1 329.7h0M203.1 307.3h0M203.1 328.8h0M203.1 316.6h0M203.1 307.3h0M203.1 316.6h0M203.1 308.2h0M203.1 308.2h0M203.1 339.1h0M203.1 333.5h0M203.1 315.7h0M203.1 331.6h0M203.1 327.9h0M203.1 336.3h0M203.1 308.2h0M203.1 336.3h0M203.1 339.1h0M203.1 314.8h0M203.1 314.8h0M203.1 325.1h0M203.1 309.2h0M203.1 323.2h0M203.1 323.2h0M203.1 344.7h0M203.1 313.8h0M203.1 322.3h0M203.1 343.8h0M203.1 304.5h0M203.1 340.0h0M203.1 320.4h0M203.1 334.4h0M203.1 326.0h0M206.3 317.6h0M206.3 323.2h0M206.3 318.5h0M206.3 327.9h0M206.3 333.5h0M206.3 332.5h0M206.3 335.4h0M206.3 324.1h0M206.3 346.6h0M206.3 335.4h0M206.3 327.9h0M206.3 342.8h0M206.3 322.3h0M206.3 320.4h0M206.3 315.7h0M206.3 309.2h0M206.3 311.0h0M206.3 342.8h0M206.3 321.3h0M206.3 326.9h0M206.3 336.3h0M206.3 325.1h0M206.3 314.8h0M206.3 315.7h0M206.3 321.3h0M206.3 340.0h0M206.3 320.4h0M206.3 319.5h0M206.3 333.5h0M206.3 326.9h0M206.3 327.9h0M206.3 329.7h0M206.3 322.3h0M206.3 321.3h0M206.3 314.8h0M206.3 304.5h0M206.3 338.2h0M206.3 320.4h0M206.3 326.9h0M206.3 327.9h0M209.5 312.0h0M209.5 333.5h0M209.5 311.0h0M209.5 338.2h0M209.5 341.9h0M209.5 317.6h0M209.5 341.0h0M209.5 328.8h0M209.5 326.9h0M209.5 303.5h0M209.5 303.5h0M209.5 338.2h0M209.5 321.3h0M209.5 331.6h0M209.5 312.0h0M209.5 319.5h0M209.5 331.6h0M209.5 337.2h0M209.5 316.6h0M209.5 333.5h0M209.5 317.6h0M209.5 331.6h0M209.5 320.4h0M209.5 314.8h0M209.5 332.5h0M209.5 306.4h0M209.5 329.7h0M209.5 312.9h0M209.5 334.4h0M209.5 308.2h0M209.5 345.6h0M209.5 342.8h0M209.5 312.9h0M209.5 320.4h0M209.5 326.9h0M209.5 317.6h0M209.5 329.7h0M209.5 331.6h0M212.7 327.9h0M212.7 332.5h0M212.7 309.2h0M212.7 321.3h0M212.7 311.0h0M212.7 326.0h0M212.7 326.0h0M212.7 324.1h0M212.7 317.6h0M212.7 313.8h0M212.7 333.5h0M212.7 320.4h0M212.7 345.6h0M212.7 341.9h0M212.7 331.6h0M212.7 335.4h0M212.7 315.7h0M212.7 312.9h0M212.7 336.3h0M212.7 326.9h0M212.7 306.4h0M212.7 324.1h0M212.7 309.2h0M212.7 308.2h0M212.7 326.0h0M212.7 326.9h0M212.7 322.3h0M212.7 320.4h0M212.7 312.9h0M212.7 324.1h0M212.7 325.1h0M212.7 320.4h0M212.7 322.3h0M212.7 327.9h0M212.7 316.6h0M212.7 324.1h0M212.7 326.9h0M212.7 333.5h0M212.7 340.0h0M212.7 333.5h0M212.7 329.7h0M215.8 312.9h0M215.8 303.5h0M215.8 312.0h0M215.8 335.4h0M215.8 335.4h0M215.8 326.0h0M215.8 336.3h0M215.8 314.8h0M215.8 312.0h0M215.8 342.8h0M215.8 341.0h0M215.8 337.2h0M215.8 341.0h0M215.8 326.0h0M215.8 323.2h0M215.8 341.0h0M215.8 323.2h0M215.8 335.4h0M215.8 334.4h0M215.8 314.8h0M215.8 333.5h0M215.8 327.9h0M215.8 308.2h0M215.8 341.0h0M215.8 312.9h0M215.8 332.5h0M215.8 333.5h0M215.8 316.6h0M215.8 314.8h0M215.8 332.5h0M215.8 329.7h0M215.8 342.8h0M215.8 328.8h0M215.8 333.5h0M215.8 328.8h0M215.8 339.1h0M215.8 313.8h0M215.8 302.6h0M215.8 333.5h0M215.8 324.1h0M215.8 318.5h0M219.0 338.2h0M219.0 324.1h0M219.0 321.3h0M219.0 330.7h0M219.0 322.3h0M219.0 304.5h0M219.0 310.1h0M219.0 335.4h0M219.0 335.4h0M219.0 312.0h0M219.0 330.7h0M219.0 335.4h0M219.0 335.4h0M219.0 345.6h0M219.0 339.1h0M219.0 326.0h0M219.0 324.1h0M219.0 335.4h0M219.0 312.0h0M219.0 306.4h0M219.0 337.2h0M219.0 341.9h0M219.0 334.4h0M219.0 330.7h0M219.0 306.4h0M219.0 309.2h0M219.0 318.5h0M219.0 323.2h0M219.0 328.8h0M219.0 316.6h0M219.0 343.8h0M219.0 302.6h0M219.0 326.9h0M219.0 327.9h0M219.0 334.4h0M219.0 334.4h0M219.0 333.5h0M219.0 323.2h0M219.0 323.2h0M222.2 319.5h0M222.2 312.0h0M222.2 328.8h0M222.2 323.2h0M222.2 308.2h0M222.2 345.6h0M222.2 330.7h0M222.2 318.5h0M222.2 315.7h0M222.2 324.1h0M222.2 329.7h0M222.2 315.7h0M222.2 328.8h0M222.2 318.5h0M222.2 334.4h0M222.2 332.5h0M222.2 337.2h0M222.2 331.6h0M222.2 328.8h0M222.2 311.0h0M222.2 330.7h0M222.2 341.9h0M222.2 309.2h0M222.2 339.1h0M222.2 319.5h0M222.2 319.5h0M222.2 319.5h0M222.2 336.3h0M222.2 327.9h0M222.2 329.7h0M222.2 314.8h0M222.2 315.7h0M222.2 344.7h0M222.2 343.8h0M222.2 337.2h0M222.2 312.0h0M222.2 328.8h0M222.2 317.6h0M225.4 331.6h0M225.4 333.5h0M225.4 330.7h0M225.4 331.6h0M225.4 341.0h0M225.4 338.2h0M225.4 343.8h0M225.4 337.2h0M225.4 333.5h0M225.4 312.9h0M225.4 323.2h0M225.4 320.4h0M225.4 335.4h0M225.4 322.3h0M225.4 333.5h0M225.4 324.1h0M225.4 326.9h0M225.4 337.2h0M225.4 336.3h0M225.4 342.8h0M225.4 324.1h0M225.4 317.6h0M225.4 336.3h0M225.4 336.3h0M225.4 304.5h0M225.4 342.8h0M225.4 339.1h0M225.4 326.0h0M225.4 318.5h0M225.4 314.8h0M225.4 326.0h0M225.4 326.9h0M225.4 327.9h0M228.5 334.4h0M228.5 325.1h0M228.5 334.4h0M228.5 323.2h0M228.5 320.4h0M228.5 307.3h0M228.5 331.6h0M228.5 337.2h0M228.5 343.8h0M228.5 325.1h0M228.5 320.4h0M228.5 320.4h0M228.5 315.7h0M228.5 340.0h0M228.5 345.6h0M228.5 320.4h0M228.5 335.4h0M228.5 312.0h0M228.5 333.5h0M228.5 340.0h0M228.5 319.5h0M228.5 345.6h0M228.5 324.1h0M228.5 332.5h0M228.5 310.1h0M228.5 335.4h0M228.5 326.0h0M228.5 328.8h0M228.5 326.9h0M228.5 335.4h0M228.5 321.3h0M228.5 317.6h0M228.5 319.5h0M228.5 341.0h0M228.5 306.4h0M228.5 313.8h0M231.7 320.4h0M231.7 316.6h0M231.7 326.0h0M231.7 319.5h0M231.7 302.6h0M231.7 341.9h0M231.7 326.0h0M231.7 321.3h0M231.7 319.5h0M231.7 304.5h0M231.7 313.8h0M231.7 330.7h0M231.7 331.6h0M231.7 327.9h0M231.7 320.4h0M231.7 340.0h0M231.7 336.3h0M231.7 312.0h0M231.7 319.5h0M231.7 339.1h0M231.7 318.5h0M231.7 329.7h0M231.7 315.7h0M231.7 341.9h0M231.7 301.7h0M231.7 314.8h0M231.7 337.2h0M231.7 331.6h0M231.7 326.9h0M231.7 311.0h0M231.7 305.4h0M231.7 323.2h0M231.7 341.0h0M231.7 341.0h0M231.7 305.4h0M231.7 330.7h0M234.9 319.5h0M234.9 308.2h0M234.9 342.8h0M234.9 316.6h0M234.9 314.8h0M234.9 333.5h0M234.9 322.3h0M234.9 331.6h0M234.9 326.0h0M234.9 317.6h0M234.9 338.2h0M234.9 324.1h0M234.9 318.5h0M234.9 318.5h0M234.9 310.1h0M234.9 331.6h0M234.9 330.7h0M234.9 326.0h0M234.9 344.7h0M234.9 327.9h0M234.9 327.9h0M234.9 334.4h0M234.9 332.5h0M234.9 342.8h0M234.9 320.4h0M234.9 328.8h0M234.9 327.9h0M234.9 323.2h0M234.9 326.9h0M234.9 340.0h0M234.9 328.8h0M234.9 328.8h0M234.9 331.6h0M234.9 342.8h0M234.9 336.3h0M238.1 343.8h0M238.1 321.3h0M238.1 324.1h0M238.1 323.2h0M238.1 322.3h0M238.1 341.9h0M238.1 320.4h0M238.1 335.4h0M238.1 323.2h0M238.1 317.6h0M238.1 344.7h0M238.1 310.1h0M238.1 311.0h0M238.1 335.4h0M238.1 332.5h0M238.1 332.5h0M238.1 327.9h0M238.1 320.4h0M238.1 325.1h0M238.1 341.0h0M238.1 343.8h0M238.1 337.2h0M238.1 331.6h0M238.1 326.9h0M238.1 325.1h0M238.1 325.1h0M238.1 321.3h0M238.1 336.3h0M238.1 325.1h0M238.1 307.3h0M238.1 319.5h0M238.1 340.0h0M238.1 324.1h0M241.3 322.3h0M241.3 337.2h0M241.3 326.9h0M241.3 316.6h0M241.3 334.4h0M241.3 315.7h0M241.3 326.9h0M241.3 298.9h0M241.3 303.5h0M241.3 330.7h0M241.3 324.1h0M241.3 318.5h0M241.3 319.5h0M241.3 316.6h0M241.3 341.0h0M241.3 307.3h0M241.3 326.0h0M241.3 309.2h0M241.3 335.4h0M241.3 305.4h0M241.3 318.5h0M241.3 341.0h0M241.3 315.7h0M241.3 337.2h0M241.3 327.9h0M241.3 340.0h0M241.3 326.9h0M241.3 326.9h0M241.3 310.1h0M241.3 326.0h0M241.3 316.6h0M244.4 336.3h0M244.4 307.3h0M244.4 311.0h0M244.4 329.7h0M244.4 328.8h0M244.4 322.3h0M244.4 324.1h0M244.4 312.9h0M244.4 313.8h0M244.4 312.9h0M244.4 319.5h0M244.4 325.1h0M244.4 322.3h0M244.4 314.8h0M244.4 341.0h0M244.4 329.7h0M244.4 313.8h0M244.4 335.4h0M244.4 331.6h0M244.4 319.5h0M244.4 313.8h0M244.4 326.0h0M244.4 341.0h0M244.4 339.1h0M244.4 333.5h0M244.4 329.7h0M244.4 327.9h0M244.4 339.1h0M244.4 328.8h0M244.4 329.7h0M244.4 344.7h0M244.4 320.4h0M244.4 331.6h0M244.4 326.0h0M247.6 316.6h0M247.6 314.8h0M247.6 322.3h0M247.6 316.6h0M247.6 332.5h0M247.6 334.4h0M247.6 334.4h0M247.6 341.0h0M247.6 324.1h0M247.6 314.8h0M247.6 342.8h0M247.6 316.6h0M247.6 336.3h0M247.6 326.9h0M247.6 328.8h0M247.6 326.9h0M247.6 336.3h0M247.6 312.0h0M247.6 331.6h0M247.6 318.5h0M247.6 331.6h0M247.6 334.4h0M247.6 310.1h0M247.6 313.8h0M247.6 340.0h0M247.6 333.5h0M247.6 319.5h0M247.6 328.8h0M250.8 340.0h0M250.8 340.0h0M250.8 321.3h0M250.8 323.2h0M250.8 322.3h0M250.8 329.7h0M250.8 332.5h0M250.8 330.7h0M250.8 332.5h0M250.8 317.6h0M250.8 333.5h0M250.8 338.2h0M250.8 328.8h0M250.8 326.0h0M250.8 318.5h0M250.8 329.7h0M250.8 312.0h0M250.8 321.3h0M250.8 325.1h0M250.8 329.7h0M250.8 307.3h0M250.8 315.7h0M250.8 315.7h0M250.8 321.3h0M250.8 323.2h0M250.8 333.5h0M250.8 312.0h0M250.8 320.4h0M250.8 330.7h0M250.8 318.5h0M250.8 316.6h0M254.0 334.4h0M254.0 332.5h0M254.0 309.2h0M254.0 327.9h0M254.0 325.1h0M254.0 325.1h0M254.0 322.3h0M254.0 343.8h0M254.0 316.6h0M254.0 341.9h0M254.0 341.9h0M254.0 325.1h0M254.0 329.7h0M254.0 334.4h0M254.0 329.7h0M254.0 322.3h0M254.0 336.3h0M254.0 328.8h0M254.0 317.6h0M254.0 327.9h0M254.0 332.5h0M254.0 342.8h0M254.0 335.4h0M254.0 334.4h0M254.0 320.4h0M254.0 341.0h0M254.0 318.5h0M254.0 318.5h0M254.0 321.3h0M254.0 317.6h0M254.0 328.8h0M257.1 336.3h0M257.1 328.8h0M257.1 322.3h0M257.1 330.7h0M257.1 321.3h0M257.1 340.0h0M257.1 324.1h0M257.1 323.2h0M257.1 340.0h0M257.1 325.1h0M257.1 344.7h0M257.1 334.4h0M257.1 316.6h0M257.1 327.9h0M257.1 332.5h0M257.1 322.3h0M257.1 321.3h0M257.1 320.4h0M257.1 317.6h0M257.1 318.5h0M257.1 327.9h0M257.1 333.5h0M257.1 327.9h0M257.1 335.4h0M257.1 325.1h0M257.1 313.8h0M257.1 318.5h0M257.1 342.8h0M260.3 319.5h0M260.3 321.3h0M260.3 331.6h0M260.3 334.4h0M260.3 326.0h0M260.3 337.2h0M260.3 329.7h0M260.3 310.1h0M260.3 313.8h0M260.3 313.8h0M260.3 330.7h0M260.3 342.8h0M260.3 333.5h0M260.3 339.1h0M260.3 312.0h0M260.3 343.8h0M260.3 326.9h0M260.3 319.5h0M260.3 322.3h0M260.3 323.2h0M260.3 332.5h0M260.3 311.0h0M260.3 333.5h0M260.3 340.0h0M260.3 315.7h0M263.5 335.4h0M263.5 329.7h0M263.5 325.1h0M263.5 327.9h0M263.5 329.7h0M263.5 332.5h0M263.5 317.6h0M263.5 337.2h0M263.5 312.0h0M263.5 314.8h0M263.5 321.3h0M263.5 321.3h0M263.5 314.8h0M263.5 327.9h0M263.5 326.9h0M263.5 312.9h0M263.5 326.0h0M263.5 309.2h0M263.5 324.1h0M263.5 341.9h0M263.5 336.3h0M263.5 329.7h0M263.5 323.2h0M263.5 324.1h0M266.7 322.3h0M266.7 326.0h0M266.7 324.1h0M266.7 323.2h0M266.7 324.1h0M266.7 336.3h0M266.7 313.8h0M266.7 316.6h0M266.7 313.8h0M266.7 329.7h0M266.7 322.3h0M266.7 310.1h0M266.7 316.6h0M266.7 337.2h0M266.7 327.9h0M266.7 326.9h0M266.7 341.9h0M266.7 312.9h0M266.7 323.2h0M266.7 340.0h0M269.9 324.1h0M269.9 340.0h0M269.9 315.7h0M269.9 338.2h0M269.9 331.6h0M269.9 332.5h0M269.9 312.9h0M269.9 332.5h0M269.9 317.6h0M269.9 317.6h0M269.9 334.4h0M269.9 331.6h0M269.9 337.2h0M269.9 321.3h0M269.9 343.8h0M269.9 323.2h0M269.9 336.3h0M269.9 329.7h0M269.9 340.0h0M269.9 316.6h0M269.9 338.2h0M269.9 339.1h0M269.9 329.7h0M269.9 322.3h0M273.0 314.8h0M273.0 322.3h0M273.0 332.5h0M273.0 322.3h0M273.0 306.4h0M273.0 336.3h0M273.0 334.4h0M273.0 323.2h0M273.0 311.0h0M273.0 319.5h0M273.0 321.3h0M273.0 319.5h0M273.0 329.7h0M273.0 327.9h0M273.0 322.3h0M273.0 338.2h0M273.0 315.7h0M273.0 325.1h0M273.0 322.3h0M273.0 323.2h0M273.0 332.5h0M273.0 327.9h0M273.0 325.1h0M276.2 331.6h0M276.2 320.4h0M276.2 324.1h0M276.2 341.9h0M276.2 327.9h0M276.2 343.8h0M276.2 335.4h0M276.2 332.5h0M276.2 314.8h0M276.2 326.0h0M276.2 328.8h0M276.2 308.2h0M276.2 343.8h0M276.2 331.6h0M276.2 331.6h0M276.2 324.1h0M276.2 326.0h0M276.2 324.1h0M276.2 322.3h0M276.2 322.3h0M276.2 321.3h0M279.4 326.9h0M279.4 319.5h0M279.4 319.5h0M279.4 336.3h0M279.4 337.2h0M279.4 328.8h0M279.4 320.4h0M279.4 317.6h0M279.4 326.0h0M279.4 312.9h0M279.4 305.4h0M279.4 324.1h0M279.4 326.9h0M279.4 343.8h0M279.4 324.1h0M279.4 311.0h0M279.4 318.5h0M279.4 315.7h0M282.6 334.4h0M282.6 313.8h0M282.6 326.0h0M282.6 330.7h0M282.6 317.6h0M282.6 340.0h0M282.6 323.2h0M282.6 323.2h0M282.6 320.4h0M282.6 311.0h0M282.6 327.9h0M282.6 335.4h0M282.6 306.4h0M282.6 309.2h0M282.6 326.0h0M282.6 326.0h0M282.6 313.8h0M282.6 320.4h0M282.6 325.1h0M282.6 331.6h0M282.6 310.1h0M285.7 320.4h0M285.7 319.5h0M285.7 320.4h0M285.7 327.9h0M285.7 335.4h0M285.7 315.7h0M285.7 302.6h0M285.7 323.2h0M285.7 323.2h0M285.7 339.1h0M285.7 333.5h0M285.7 320.4h0M285.7 338.2h0M285.7 337.2h0M285.7 317.6h0M285.7 328.8h0M285.7 316.6h0M285.7 329.7h0M288.9 318.5h0M288.9 323.2h0M288.9 332.5h0M288.9 342.8h0M288.9 341.9h0M288.9 331.6h0M288.9 339.1h0M288.9 315.7h0M288.9 316.6h0M288.9 331.6h0M288.9 339.1h0M288.9 338.2h0M288.9 335.4h0M288.9 325.1h0M288.9 337.2h0M288.9 326.9h0M288.9 338.2h0M288.9 340.0h0M288.9 325.1h0M292.1 327.9h0M292.1 312.9h0M292.1 338.2h0M292.1 312.0h0M292.1 314.8h0M292.1 307.3h0M292.1 323.2h0M292.1 327.9h0M292.1 320.4h0M292.1 339.1h0M292.1 313.8h0M292.1 327.9h0M292.1 324.1h0M292.1 331.6h0M292.1 326.9h0M292.1 309.2h0M295.3 342.8h0M295.3 335.4h0M295.3 342.8h0M295.3 332.5h0M295.3 318.5h0M295.3 312.9h0M295.3 335.4h0M295.3 316.6h0M295.3 322.3h0M295.3 312.9h0M295.3 336.3h0M295.3 322.3h0M295.3 330.7h0M295.3 322.3h0M295.3 312.9h0M295.3 334.4h0M295.3 326.0h0M295.3 316.6h0M295.3 337.2h0M298.4 342.8h0M298.4 338.2h0M298.4 331.6h0M298.4 340.0h0M298.4 317.6h0M298.4 326.9h0M298.4 328.8h0M298.4 334.4h0M298.4 340.0h0M298.4 325.1h0M298.4 342.8h0M298.4 314.8h0M298.4 340.0h0M298.4 341.0h0M298.4 321.3h0M298.4 327.9h0M301.6 312.9h0M301.6 309.2h0M301.6 312.9h0M301.6 331.6h0M301.6 325.1h0M301.6 335.4h0M301.6 329.7h0M301.6 320.4h0M301.6 337.2h0M301.6 339.1h0M301.6 325.1h0M301.6 315.7h0M301.6 326.0h0M304.8 339.1h0M304.8 325.1h0M304.8 336.3h0M304.8 314.8h0M304.8 308.2h0M304.8 330.7h0M304.8 308.2h0M304.8 341.9h0M304.8 326.9h0M304.8 326.9h0M304.8 302.6h0M304.8 336.3h0M304.8 334.4h0M308.0 329.7h0M308.0 331.6h0M308.0 336.3h0M308.0 338.2h0M308.0 330.7h0M308.0 333.5h0M308.0 336.3h0M308.0 340.0h0M308.0 331.6h0M308.0 325.1h0M308.0 322.3h0M308.0 337.2h0M308.0 315.7h0M311.2 314.8h0M311.2 326.9h0M311.2 321.3h0M311.2 324.1h0M311.2 332.5h0M311.2 326.0h0M311.2 331.6h0M311.2 331.6h0M311.2 326.9h0M311.2 317.6h0M311.2 335.4h0M311.2 328.8h0M311.2 320.4h0M314.3 315.7h0M314.3 328.8h0M314.3 327.9h0M314.3 338.2h0M314.3 322.3h0M314.3 317.6h0M314.3 341.9h0M314.3 332.5h0M314.3 313.8h0M314.3 326.0h0M317.5 341.9h0M317.5 326.9h0M317.5 317.6h0M317.5 331.6h0M317.5 308.2h0M317.5 322.3h0M317.5 335.4h0M320.7 316.6h0M320.7 321.3h0M320.7 330.7h0M320.7 331.6h0M320.7 328.8h0M320.7 326.9h0M320.7 328.8h0M323.9 341.0h0M323.9 338.2h0M323.9 341.0h0M323.9 313.8h0M323.9 319.5h0M323.9 310.1h0M323.9 319.5h0M323.9 341.9h0M323.9 315.7h0M76.0 264.0h0M47.4 269.6h0M53.8 269.6h0M76.0 276.7h0M79.2 278.1h0M85.6 278.1h0M104.6 277.4h0M47.4 282.8h0M53.8 282.8h0M57.0 285.7h0M53.8 286.9h0M60.1 281.0h0M60.1 286.9h0M72.8 282.8h0M76.0 285.7h0M82.4 286.1h0M69.7 286.9h0M66.5 289.9h0M88.7 289.2h0M85.6 290.9h0M98.3 284.5h0M98.3 286.9h0M95.1 290.4h0M47.4 293.2h0M111.0 290.9h0M114.2 289.2h0M117.3 292.8h0M101.4 292.3h0M225.4 269.6h0M228.5 282.3h0M123.7 278.0h0M142.8 279.6h0M145.9 281.5h0M161.8 282.0h0M187.2 283.9h0M120.5 292.1h0M123.7 293.8h0M136.4 291.0h0M136.4 294.5h0M155.5 289.1h0M152.3 293.8h0M149.1 295.7h0M165.0 288.6h0M165.0 291.4h0M177.7 290.5h0M184.1 288.6h0M187.2 288.6h0M190.4 285.8h0M168.2 296.9h0M199.9 287.0h0M206.3 287.0h0M212.7 287.0h0M215.8 291.7h0M222.2 293.1h0M199.9 296.0h0M206.3 298.8h0M199.9 301.9h0M212.7 298.8h0M219.0 297.8h0M225.4 298.8h0M228.5 295.5h0M257.1 293.1h0M273.0 291.2h0M260.3 298.8h0M266.7 297.8h0M269.9 298.8h0M273.0 290.8h0M285.7 294.0h0M279.4 297.5h0M282.6 300.1h0M288.9 299.5h0M295.3 300.9h0M311.2 300.5h0M314.3 300.5h0M311.2 303.6h0M323.9 306.2h0M273.0 307.7h0M279.4 306.2h0M282.6 308.3h0M285.7 303.6h0M288.9 307.7h0M292.1 308.3h0M304.8 308.3h0M314.3 310.7h0M295.3 311.7h0M301.6 312.7h0M50.6 354.6h0M50.6 358.4h0M57.0 355.3h0M63.3 354.6h0M69.7 359.4h0M76.0 354.6h0M79.2 353.7h0M82.4 358.9h0M82.4 363.6h0M88.7 350.6h0M95.1 354.6h0M104.6 354.6h0M107.8 353.0h0M117.3 350.6h0M72.8 373.5h0M57.0 382.0h0M104.6 371.4h0M123.7 354.6h0M126.9 354.6h0M133.2 350.6h0M149.1 357.0h0M155.5 354.6h0M161.8 357.0h0M165.0 354.6h0M174.5 359.4h0M177.7 354.6h0M180.9 354.6h0M184.1 358.4h0M177.7 364.8h0M196.8 357.7h0M139.6 363.1h0M161.8 371.4h0M199.9 352.0h0M196.8 358.6h0M212.7 351.0h0M215.8 349.2h0M225.4 349.2h0M231.7 348.0h0M234.9 346.3h0M241.3 346.3h0M247.6 341.6h0M260.3 354.4h0M323.9 324.4h0M323.9 342.9h0M323.9 348.0h0M317.5 340.7h0M279.4 346.2h0M285.7 345.8h0M282.6 350.6h0M282.6 354.5h0M285.7 354.5h0M298.4 346.2h0M47.4 294.0h0M53.8 294.6h0M57.0 294.6h0M63.3 294.6h0M66.5 294.6h0M69.7 294.6h0M72.8 294.6h0M76.0 294.6h0M82.4 294.6h0M88.7 295.3h0M91.9 295.3h0M98.3 294.6h0M101.4 295.3h0M104.6 294.6h0M107.8 295.3h0M114.2 295.3h0M117.3 296.0h0M142.8 296.0h0M126.9 298.0h0M155.5 300.0h0M180.9 294.0h0M190.4 296.0h0M193.6 295.3h0M196.8 296.0h0M199.9 295.3h0M206.3 294.6h0M174.5 299.3h0M177.7 300.0h0M184.1 299.3h0M206.3 299.3h0M209.5 300.6h0M212.7 300.0h0M168.2 298.0h0"/>
<path d="M51.00,114.90 C52.92,115.03 59.20,115.42 62.50,115.70 C65.80,115.98 66.67,116.40 70.80,116.60 C74.93,116.80 82.77,116.90 87.30,116.90 C91.83,116.90 94.57,116.72 98.00,116.60 C101.43,116.48 104.87,116.48 107.90,116.20 C110.93,115.92 113.45,115.32 116.20,114.90 C118.95,114.48 121.92,113.90 124.40,113.70 C126.88,113.50 128.62,113.50 131.10,113.70 C133.58,113.90 136.55,114.53 139.30,114.90 C142.05,115.27 144.43,115.57 147.60,115.90 C150.77,116.23 155.07,116.60 158.30,116.90 C161.53,117.20 163.70,117.75 167.00,117.70 C170.30,117.65 174.87,117.07 178.10,116.60 C181.33,116.13 183.37,115.45 186.40,114.90 C189.43,114.35 193.28,113.85 196.30,113.30 C199.32,112.75 203.13,111.88 204.50,111.60" fill="none" stroke="#000" stroke-width="2.2"/>
<path d="M205.50,117.30 C206.63,116.95 209.80,115.73 212.30,115.20 C214.80,114.67 217.75,114.42 220.50,114.10 C223.25,113.78 226.03,113.43 228.80,113.30 C231.57,113.17 234.35,113.22 237.10,113.30 C239.85,113.38 242.55,113.58 245.30,113.80 C248.05,114.02 250.43,114.13 253.60,114.60 C256.77,115.07 261.15,116.05 264.30,116.60 C267.45,117.15 269.75,117.50 272.50,117.90 C275.25,118.30 278.05,119.17 280.80,119.00 C283.55,118.83 286.25,117.72 289.00,116.90 C291.75,116.08 294.63,114.97 297.30,114.10 C299.97,113.23 302.88,112.05 305.00,111.70 C307.12,111.35 308.32,111.73 310.00,112.00 C311.68,112.27 313.42,112.85 315.10,113.30 C316.78,113.75 318.97,114.38 320.10,114.70 C321.23,115.02 321.60,115.12 321.90,115.20" fill="none" stroke="#000" stroke-width="2.2" stroke-dasharray="3.5 1.5"/>
<path d="M51.00,328.00 C53.10,328.10 59.28,328.67 63.60,328.60 C67.92,328.53 72.83,327.77 76.90,327.60 C80.97,327.43 83.93,327.53 88.00,327.60 C92.07,327.67 97.32,327.98 101.30,328.00 C105.28,328.02 107.92,328.07 111.90,327.70 C115.88,327.33 121.63,325.87 125.20,325.80 C128.77,325.73 130.85,326.98 133.30,327.30 C135.75,327.62 137.68,327.65 139.90,327.70 C142.12,327.75 144.17,327.58 146.60,327.60 C149.03,327.62 151.43,328.02 154.50,327.80 C157.57,327.58 161.92,326.50 165.00,326.30 C168.08,326.10 170.35,326.48 173.00,326.60 C175.65,326.72 178.47,327.07 180.90,327.00 C183.33,326.93 185.17,326.30 187.60,326.20 C190.03,326.10 192.63,326.28 195.50,326.40 C198.37,326.52 203.02,326.80 204.80,326.90 C206.58,327.00 205.97,326.98 206.20,327.00" fill="none" stroke="#000" stroke-width="2.2"/>
<path d="M207.50,328.00 C208.55,327.82 211.27,327.23 213.80,326.90 C216.33,326.57 219.45,325.98 222.70,326.00 C225.95,326.02 230.05,326.83 233.30,327.00 C236.55,327.17 238.95,327.17 242.20,327.00 C245.45,326.83 249.27,326.07 252.80,326.00 C256.33,325.93 260.13,326.37 263.40,326.60 C266.67,326.83 269.13,327.33 272.40,327.40 C275.67,327.47 279.75,327.35 283.00,327.00 C286.25,326.65 288.65,325.57 291.90,325.30 C295.15,325.03 299.90,325.30 302.50,325.40 C305.10,325.50 305.80,325.62 307.50,325.90 C309.20,326.18 311.17,326.52 312.70,327.10 C314.23,327.68 315.27,328.50 316.70,329.40 C318.13,330.30 320.25,331.83 321.30,332.50 C322.35,333.17 322.72,333.25 323.00,333.40" fill="none" stroke="#000" stroke-width="2.2" stroke-dasharray="3.5 1.5"/>
<line x1="41.5" y1="16.70" x2="41.5" y2="187.30" stroke="#8c8c8c" stroke-width="1.6"/>
<line x1="40.70" y1="186.55" x2="337.60" y2="186.55" stroke="#8c8c8c" stroke-width="1.5"/>
<line x1="38.00" y1="22.37" x2="41.5" y2="22.37" stroke="#8a8a8a" stroke-width="1"/>
<text x="33.3" y="26.07" text-anchor="end" font-size="11">60</text>
<line x1="38.00" y1="61.93" x2="41.5" y2="61.93" stroke="#8a8a8a" stroke-width="1"/>
<text x="33.3" y="65.63" text-anchor="end" font-size="11">40</text>
<line x1="38.00" y1="101.49" x2="41.5" y2="101.49" stroke="#8a8a8a" stroke-width="1"/>
<text x="33.3" y="105.19" text-anchor="end" font-size="11">20</text>
<line x1="38.00" y1="141.05" x2="41.5" y2="141.05" stroke="#8a8a8a" stroke-width="1"/>
<text x="33.3" y="144.75" text-anchor="end" font-size="11">0</text>
<line x1="38.00" y1="180.61" x2="41.5" y2="180.61" stroke="#8a8a8a" stroke-width="1"/>
<text x="33.3" y="184.31" text-anchor="end" font-size="11">-20</text>
<line x1="78.66" y1="186.50" x2="78.66" y2="189.80" stroke="#8a8a8a" stroke-width="1"/>
<text x="78.66" y="202.90" text-anchor="middle" font-size="11">-40</text>
<line x1="141.88" y1="186.50" x2="141.88" y2="189.80" stroke="#8a8a8a" stroke-width="1"/>
<text x="141.88" y="202.90" text-anchor="middle" font-size="11">-20</text>
<line x1="205.10" y1="186.50" x2="205.10" y2="189.80" stroke="#8a8a8a" stroke-width="1"/>
<text x="205.10" y="202.90" text-anchor="middle" font-size="11">0</text>
<line x1="268.32" y1="186.50" x2="268.32" y2="189.80" stroke="#8a8a8a" stroke-width="1"/>
<text x="268.32" y="202.90" text-anchor="middle" font-size="11">20</text>
<line x1="331.54" y1="186.50" x2="331.54" y2="189.80" stroke="#8a8a8a" stroke-width="1"/>
<text x="331.54" y="202.90" text-anchor="middle" font-size="11">40</text>
<text x="135.0" y="13.3" font-size="10.8" textLength="108.8" lengthAdjust="spacingAndGlyphs">Overweight/obese women</text>
<text transform="translate(8.8,160.80) rotate(-90)" font-size="11" textLength="119.30" lengthAdjust="spacingAndGlyphs">Gestational weight gain (kg)</text>
<line x1="41.6" y1="237.30" x2="41.6" y2="399.20" stroke="#a0a0a0" stroke-width="1.4"/>
<line x1="40.90" y1="398.5" x2="339.00" y2="398.5" stroke="#c4c4c4" stroke-width="1.4"/>
<line x1="38.00" y1="242.74" x2="41.5" y2="242.74" stroke="#8a8a8a" stroke-width="1"/>
<text x="33.3" y="246.44" text-anchor="end" font-size="11">60</text>
<line x1="38.00" y1="280.16" x2="41.5" y2="280.16" stroke="#8a8a8a" stroke-width="1"/>
<text x="33.3" y="283.86" text-anchor="end" font-size="11">40</text>
<line x1="38.00" y1="317.58" x2="41.5" y2="317.58" stroke="#8a8a8a" stroke-width="1"/>
<text x="33.3" y="321.28" text-anchor="end" font-size="11">20</text>
<line x1="38.00" y1="355.00" x2="41.5" y2="355.00" stroke="#8a8a8a" stroke-width="1"/>
<text x="33.3" y="358.70" text-anchor="end" font-size="11">0</text>
<line x1="38.00" y1="392.42" x2="41.5" y2="392.42" stroke="#8a8a8a" stroke-width="1"/>
<text x="33.3" y="396.12" text-anchor="end" font-size="11">-20</text>
<line x1="79.20" y1="398.30" x2="79.20" y2="401.60" stroke="#8a8a8a" stroke-width="1"/>
<text x="79.20" y="414.70" text-anchor="middle" font-size="11">-40</text>
<line x1="142.75" y1="398.30" x2="142.75" y2="401.60" stroke="#8a8a8a" stroke-width="1"/>
<text x="142.75" y="414.70" text-anchor="middle" font-size="11">-20</text>
<line x1="206.30" y1="398.30" x2="206.30" y2="401.60" stroke="#8a8a8a" stroke-width="1"/>
<text x="206.30" y="414.70" text-anchor="middle" font-size="11">0</text>
<line x1="269.85" y1="398.30" x2="269.85" y2="401.60" stroke="#8a8a8a" stroke-width="1"/>
<text x="269.85" y="414.70" text-anchor="middle" font-size="11">20</text>
<line x1="333.40" y1="398.30" x2="333.40" y2="401.60" stroke="#8a8a8a" stroke-width="1"/>
<text x="333.40" y="414.70" text-anchor="middle" font-size="11">40</text>
<text x="130.6" y="235.6" font-size="10.8" textLength="119.3" lengthAdjust="spacingAndGlyphs">Underweight/normal women</text>
<text transform="translate(8.8,378.30) rotate(-90)" font-size="11" textLength="119.00" lengthAdjust="spacingAndGlyphs">Gestational weight gain (kg)</text>
<text x="1.5" y="9.7" font-weight="bold" font-size="16.5" style="font-family:'Liberation Sans',sans-serif;fill:#000;stroke:none">a</text>
<text x="0.8" y="233.8" font-weight="bold" font-size="18" style="font-family:'Liberation Sans',sans-serif;fill:#000;stroke:none">b</text>
<text x="77.4" y="430.1" font-size="10.7" textLength="225.6" lengthAdjust="spacingAndGlyphs">Months before/after changes in guidelines (July 1991)</text>
<rect x="63.8" y="441" width="256.6" height="27.4" fill="#fff" stroke="#8a8a8a" stroke-width="1"/>
<line x1="67.2" y1="454.7" x2="99.6" y2="454.7" stroke="#000" stroke-width="2.2"/>
<text x="105.2" y="457.8" font-size="9.1" textLength="80.6" lengthAdjust="spacingAndGlyphs">Births before July 1991</text>
<line x1="198.3" y1="454.7" x2="231" y2="454.7" stroke="#000" stroke-width="2.2" stroke-dasharray="3.7 1.3"/>
<text x="236.4" y="457.8" font-size="9.1" textLength="72.2" lengthAdjust="spacingAndGlyphs">Births afer July 1991</text>
</svg></div>
</body></html>
